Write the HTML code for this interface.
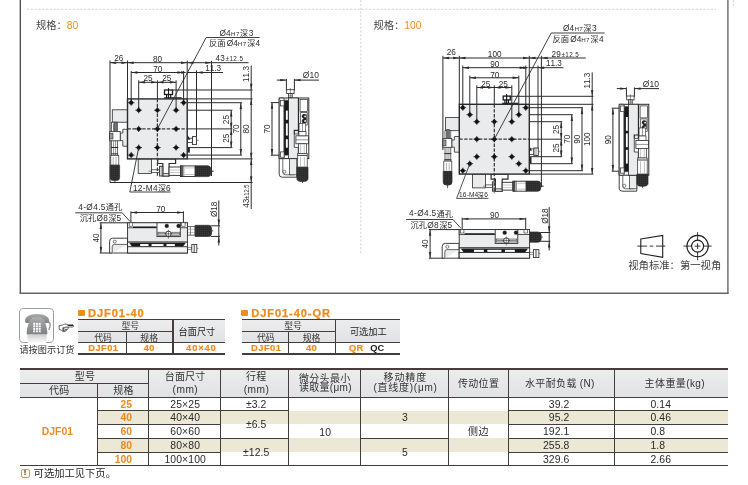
<!DOCTYPE html>
<html lang="zh-CN">
<head>
<meta charset="utf-8">
<title>DJF01</title>
<style>
html,body{margin:0;padding:0;background:#fff;}
body{-webkit-font-smoothing:antialiased;width:748px;height:485px;position:relative;overflow:hidden;font-family:"Liberation Sans","Noto Sans CJK SC",sans-serif;color:#2a2a2a;}
#page{position:absolute;left:0;top:0;width:748px;height:485px;will-change:transform;}
svg#dwg{position:absolute;left:0;top:0;width:748px;height:485px;}
svg#dwg text{font-kerning:none;font-family:"Liberation Sans","Noto Sans CJK SC",sans-serif;}

.ln,.bg,.t,.sq,.phone,.warn,.abs{position:absolute;}
.t{white-space:nowrap;}
.sq{width:6.8px;height:6.2px;background:#f08a1c;border-radius:1.2px;}
.ttl{font-weight:bold;color:#f08a1c;font-size:11.1px;line-height:13px;letter-spacing:0.9px;-webkit-text-stroke:0.25px #f08a1c;}
.bo{-webkit-text-stroke:0.2px #f08a1c;}
.phone{border:1px solid #9b9b9b;border-radius:4.6px;background:#fff;box-sizing:border-box;}
.hand{font-family:"DejaVu Sans","Liberation Sans",sans-serif;color:#333;}
.warn{width:9px;height:9.3px;box-sizing:border-box;border:1.3px solid #f0902a;border-radius:2.2px;background:#fff9f0;}
.warn span{position:absolute;left:0;right:0;top:-0.7px;text-align:center;font-size:7.8px;line-height:8px;font-weight:bold;color:#2a1a10;}

</style>
</head>
<body>
<div id="page">
<svg id="dwg" viewBox="0 0 748 485" width="748" height="485">
<defs><pattern id="kn" width="2" height="2" patternUnits="userSpaceOnUse"><rect width="2" height="2" fill="#141414"/><rect x="0.5" y="0.5" width="0.9" height="0.9" fill="#9a9a9a"/></pattern></defs>
<line x1="20.30" y1="0.00" x2="20.30" y2="293.50" stroke="#4a4645" stroke-width="1.3"/>
<line x1="727.90" y1="0.00" x2="727.90" y2="293.50" stroke="#756e6e" stroke-width="1.5"/>
<line x1="19.60" y1="293.30" x2="728.60" y2="293.30" stroke="#6a6464" stroke-width="1.4"/>
<line x1="27.00" y1="9.30" x2="716.00" y2="9.30" stroke="#c8c8c8" stroke-width="0.8" stroke-dasharray="2.2 1.6"/>
<line x1="360.80" y1="0.00" x2="360.80" y2="253.00" stroke="#c8c8c8" stroke-width="0.8" stroke-dasharray="2.2 1.6"/>
<line x1="733.50" y1="0.00" x2="733.50" y2="8.00" stroke="#d0d0d0" stroke-width="0.8" stroke-dasharray="2.2 1.6"/>
<text x="36.00" y="28.70" font-size="10.3" text-anchor="start" fill="#444">规格：</text>
<text x="66.80" y="28.50" font-size="10.3" text-anchor="start" fill="#f08c1e">80</text>
<text x="373.40" y="28.70" font-size="10.3" text-anchor="start" fill="#444">规格：</text>
<text x="404.20" y="28.50" font-size="10.3" text-anchor="start" fill="#f08c1e">100</text>
<line x1="110.00" y1="60.50" x2="110.00" y2="182.50" stroke="#2b2b2b" stroke-width="1.0"/>
<line x1="127.50" y1="60.50" x2="127.50" y2="98.90" stroke="#2b2b2b" stroke-width="1.0"/>
<line x1="187.20" y1="60.50" x2="187.20" y2="98.90" stroke="#2b2b2b" stroke-width="1.0"/>
<line x1="211.50" y1="60.80" x2="211.50" y2="176.00" stroke="#2b2b2b" stroke-width="1.0"/>
<line x1="110.00" y1="62.70" x2="248.50" y2="62.70" stroke="#2b2b2b" stroke-width="1.0"/>
<polygon points="110.00,62.70 116.20,61.50 116.20,63.90" fill="#2b2b2b"/>
<polygon points="127.50,62.70 121.30,61.50 121.30,63.90" fill="#2b2b2b"/>
<polygon points="127.50,62.70 133.70,61.50 133.70,63.90" fill="#2b2b2b"/>
<polygon points="187.20,62.70 181.00,61.50 181.00,63.90" fill="#2b2b2b"/>
<polygon points="187.20,62.70 193.40,61.50 193.40,63.90" fill="#2b2b2b"/>
<polygon points="211.50,62.70 205.30,61.50 205.30,63.90" fill="#2b2b2b"/>
<text x="118.70" y="60.90" font-size="8.2" text-anchor="middle" fill="#2b2b2b" letter-spacing="0">26</text>
<text x="157.60" y="61.60" font-size="8.2" text-anchor="middle" fill="#2b2b2b" letter-spacing="0">80</text>
<text x="215.40" y="61.40" font-size="8.2" text-anchor="start" fill="#2b2b2b" letter-spacing="0.3">43</text>
<text x="225.60" y="61.40" font-size="6.3" text-anchor="start" fill="#2b2b2b" letter-spacing="0.4">±12.5</text>
<line x1="131.20" y1="71.00" x2="131.20" y2="102.90" stroke="#2b2b2b" stroke-width="1.0"/>
<line x1="183.60" y1="71.00" x2="183.60" y2="102.90" stroke="#2b2b2b" stroke-width="1.0"/>
<line x1="131.20" y1="72.50" x2="183.60" y2="72.50" stroke="#2b2b2b" stroke-width="1.0"/>
<polygon points="131.20,72.50 137.40,71.30 137.40,73.70" fill="#2b2b2b"/>
<polygon points="183.60,72.50 177.40,71.30 177.40,73.70" fill="#2b2b2b"/>
<text x="157.80" y="71.90" font-size="8.2" text-anchor="middle" fill="#2b2b2b" letter-spacing="0">70</text>
<line x1="196.50" y1="70.30" x2="196.50" y2="136.60" stroke="#2b2b2b" stroke-width="1.0"/>
<line x1="187.20" y1="72.50" x2="223.00" y2="72.50" stroke="#2b2b2b" stroke-width="1.0"/>
<polygon points="187.20,72.50 181.00,71.30 181.00,73.70" fill="#2b2b2b"/>
<polygon points="196.50,72.50 202.70,71.30 202.70,73.70" fill="#2b2b2b"/>
<text x="213.20" y="71.10" font-size="8.2" text-anchor="middle" fill="#2b2b2b" letter-spacing="0">11.3</text>
<line x1="138.70" y1="80.30" x2="138.70" y2="110.20" stroke="#2b2b2b" stroke-width="1.0"/>
<line x1="157.40" y1="80.30" x2="157.40" y2="98.90" stroke="#2b2b2b" stroke-width="1.0"/>
<line x1="176.10" y1="80.30" x2="176.10" y2="110.20" stroke="#2b2b2b" stroke-width="1.0"/>
<line x1="138.70" y1="82.30" x2="176.10" y2="82.30" stroke="#2b2b2b" stroke-width="1.0"/>
<polygon points="138.70,82.30 144.90,81.10 144.90,83.50" fill="#2b2b2b"/>
<polygon points="157.40,82.30 151.20,81.10 151.20,83.50" fill="#2b2b2b"/>
<polygon points="157.40,82.30 163.60,81.10 163.60,83.50" fill="#2b2b2b"/>
<polygon points="176.10,82.30 169.90,81.10 169.90,83.50" fill="#2b2b2b"/>
<text x="148.05" y="80.90" font-size="8.2" text-anchor="middle" fill="#2b2b2b" letter-spacing="0">25</text>
<text x="166.75" y="80.90" font-size="8.2" text-anchor="middle" fill="#2b2b2b" letter-spacing="0">25</text>
<line x1="172.50" y1="90.00" x2="252.60" y2="90.00" stroke="#2b2b2b" stroke-width="1.0"/>
<line x1="187.20" y1="98.90" x2="252.60" y2="98.90" stroke="#2b2b2b" stroke-width="1.0"/>
<line x1="183.60" y1="102.70" x2="242.00" y2="102.70" stroke="#2b2b2b" stroke-width="1.0"/>
<line x1="176.10" y1="110.20" x2="232.40" y2="110.20" stroke="#2b2b2b" stroke-width="1.0"/>
<line x1="187.20" y1="128.90" x2="232.40" y2="128.90" stroke="#2b2b2b" stroke-width="1.0"/>
<line x1="176.10" y1="147.60" x2="232.40" y2="147.60" stroke="#2b2b2b" stroke-width="1.0"/>
<line x1="183.60" y1="155.10" x2="242.00" y2="155.10" stroke="#2b2b2b" stroke-width="1.0"/>
<line x1="187.20" y1="158.90" x2="252.60" y2="158.90" stroke="#2b2b2b" stroke-width="1.0"/>
<line x1="110.00" y1="182.50" x2="252.60" y2="182.50" stroke="#2b2b2b" stroke-width="1.0"/>
<line x1="231.20" y1="110.20" x2="231.20" y2="147.60" stroke="#2b2b2b" stroke-width="1.0"/>
<polygon points="231.20,110.20 230.00,116.40 232.40,116.40" fill="#2b2b2b"/>
<polygon points="231.20,128.90 230.00,122.70 232.40,122.70" fill="#2b2b2b"/>
<polygon points="231.20,128.90 230.00,135.10 232.40,135.10" fill="#2b2b2b"/>
<polygon points="231.20,147.60 230.00,141.40 232.40,141.40" fill="#2b2b2b"/>
<text x="229.30" y="119.60" font-size="8.2" text-anchor="middle" fill="#2b2b2b" transform="rotate(-90 229.30 119.60)" letter-spacing="0">25</text>
<text x="229.30" y="138.20" font-size="8.2" text-anchor="middle" fill="#2b2b2b" transform="rotate(-90 229.30 138.20)" letter-spacing="0">25</text>
<line x1="240.80" y1="102.70" x2="240.80" y2="155.10" stroke="#2b2b2b" stroke-width="1.0"/>
<polygon points="240.80,102.70 239.60,108.90 242.00,108.90" fill="#2b2b2b"/>
<polygon points="240.80,155.10 239.60,148.90 242.00,148.90" fill="#2b2b2b"/>
<text x="238.90" y="128.90" font-size="8.2" text-anchor="middle" fill="#2b2b2b" transform="rotate(-90 238.90 128.90)" letter-spacing="0">70</text>
<line x1="251.20" y1="65.50" x2="251.20" y2="209.00" stroke="#2b2b2b" stroke-width="1.0"/>
<polygon points="251.20,89.90 250.00,83.70 252.40,83.70" fill="#2b2b2b"/>
<polygon points="251.20,98.90 250.00,105.10 252.40,105.10" fill="#2b2b2b"/>
<polygon points="251.20,158.90 250.00,152.70 252.40,152.70" fill="#2b2b2b"/>
<polygon points="251.20,158.90 250.00,165.10 252.40,165.10" fill="#2b2b2b"/>
<polygon points="251.20,182.50 250.00,176.30 252.40,176.30" fill="#2b2b2b"/>
<text x="249.30" y="128.90" font-size="8.2" text-anchor="middle" fill="#2b2b2b" transform="rotate(-90 249.30 128.90)" letter-spacing="0">80</text>
<text x="249.30" y="74.00" font-size="8.2" text-anchor="middle" fill="#2b2b2b" transform="rotate(-90 249.30 74.00)" letter-spacing="0">11.3</text>
<text x="249.40" y="207.70" font-size="8.2" text-anchor="start" fill="#2b2b2b" transform="rotate(-90 249.40 207.70)" letter-spacing="0">43</text>
<text x="249.40" y="198.90" font-size="6.3" text-anchor="start" fill="#2b2b2b" transform="rotate(-90 249.40 198.90)" textLength="14.4" lengthAdjust="spacingAndGlyphs">±12.5</text>
<rect x="112.30" y="109.80" width="15.20" height="12.40" fill="#eaebed" stroke="#2b2b2b" stroke-width="0.8"/>
<path d="M127.5,129.3 L122.8,129.3 L122.8,133 L120.2,133 L120.2,140.6 L122.8,140.6 L122.8,146.2 L127.5,146.2" fill="#eaebed" stroke="#2b2b2b" stroke-width="0.8"/>
<rect x="111.60" y="122.20" width="6.00" height="43.80" fill="#fff" stroke="#2b2b2b" stroke-width="0.7"/>
<line x1="113.60" y1="124.00" x2="113.60" y2="166.00" stroke="#2b2b2b" stroke-width="0.5"/>
<line x1="115.60" y1="124.00" x2="115.60" y2="166.00" stroke="#2b2b2b" stroke-width="0.5"/>
<rect x="114.00" y="122.20" width="2.40" height="9.20" fill="#777" stroke="#2b2b2b" stroke-width="0.6"/>
<rect x="109.70" y="131.40" width="10.50" height="9.40" fill="#fff" stroke="#2b2b2b" stroke-width="0.8"/>
<rect x="109.70" y="133.20" width="3.30" height="5.80" fill="#999" stroke="#2b2b2b" stroke-width="0.6"/>
<line x1="111.00" y1="147.50" x2="118.20" y2="147.50" stroke="#2b2b2b" stroke-width="1.0"/>
<line x1="111.00" y1="153.80" x2="118.20" y2="153.80" stroke="#2b2b2b" stroke-width="0.9"/>
<line x1="111.00" y1="155.30" x2="118.20" y2="155.30" stroke="#2b2b2b" stroke-width="0.6"/>
<rect x="110.80" y="155.30" width="8.00" height="9.90" fill="#fff" stroke="#2b2b2b" stroke-width="0.7"/>
<line x1="113.20" y1="157.00" x2="113.20" y2="165.00" stroke="#666" stroke-width="0.5"/>
<line x1="116.00" y1="157.00" x2="116.00" y2="165.00" stroke="#666" stroke-width="0.5"/>
<path d="M110.20,165.20 L119.60,165.20 L119.60,177.60 Q119.60,180.60 116.40,180.60 L113.40,180.60 Q110.20,180.60 110.20,177.60 Z" fill="url(#kn)" stroke="#2b2b2b" stroke-width="0.7"/>
<line x1="114.90" y1="180.60" x2="114.90" y2="183.20" stroke="#2b2b2b" stroke-width="0.8"/>
<rect x="138.20" y="158.90" width="13.40" height="14.50" fill="#eaebed" stroke="#2b2b2b" stroke-width="0.8"/>
<line x1="148.50" y1="171.20" x2="214.00" y2="171.20" stroke="#2b2b2b" stroke-width="0.5"/>
<rect x="151.60" y="169.80" width="8.00" height="2.60" fill="#fff" stroke="#2b2b2b" stroke-width="0.7"/>
<path d="M157.7,158.9 L175.6,158.9 L175.6,163.5 L169.1,163.5 L169.1,176.0 L162.8,176.0 L162.8,163.5 L157.7,163.5 Z" fill="#fff" stroke="#2b2b2b" stroke-width="1.2"/>
<rect x="162.80" y="173.70" width="6.30" height="2.30" fill="#fff" stroke="#2b2b2b" stroke-width="0.9"/>
<rect x="159.60" y="166.30" width="3.20" height="9.70" fill="#fff" stroke="#2b2b2b" stroke-width="0.9"/>
<line x1="161.20" y1="166.30" x2="161.20" y2="176.00" stroke="#2b2b2b" stroke-width="0.5"/>
<rect x="169.10" y="167.00" width="11.40" height="8.40" fill="#fff" stroke="#2b2b2b" stroke-width="0.9"/>
<line x1="169.10" y1="170.00" x2="180.50" y2="170.00" stroke="#777" stroke-width="0.4"/>
<line x1="169.10" y1="172.60" x2="180.50" y2="172.60" stroke="#777" stroke-width="0.4"/>
<rect x="180.50" y="165.90" width="14.70" height="10.60" fill="#fff" stroke="#2b2b2b" stroke-width="0.9"/>
<rect x="180.50" y="165.90" width="2.00" height="10.60" fill="#555" stroke="#2b2b2b" stroke-width="0.6"/>
<line x1="183.80" y1="165.90" x2="183.80" y2="176.50" stroke="#2b2b2b" stroke-width="0.6"/>
<line x1="184.90" y1="167.90" x2="195.20" y2="167.90" stroke="#777" stroke-width="0.45"/>
<line x1="184.90" y1="174.50" x2="195.20" y2="174.50" stroke="#777" stroke-width="0.45"/>
<path d="M195.20,165.80 L207.90,165.80 Q210.90,165.80 210.90,169.70 L210.90,172.70 Q210.90,176.60 207.90,176.60 L195.20,176.60 Z" fill="url(#kn)" stroke="#2b2b2b" stroke-width="0.7"/>
<line x1="210.90" y1="171.20" x2="213.30" y2="171.20" stroke="#2b2b2b" stroke-width="0.8"/>
<line x1="164.10" y1="97.90" x2="181.70" y2="97.90" stroke="#2b2b2b" stroke-width="1.4"/>
<rect x="164.50" y="90.00" width="8.00" height="4.50" fill="#fff" stroke="#1a1a1a" stroke-width="1.3"/>
<line x1="166.60" y1="94.60" x2="166.60" y2="98.00" stroke="#1a1a1a" stroke-width="1.2"/>
<line x1="170.70" y1="94.60" x2="170.70" y2="98.00" stroke="#1a1a1a" stroke-width="1.2"/>
<line x1="168.50" y1="88.10" x2="168.50" y2="100.20" stroke="#1a1a1a" stroke-width="1.1"/>
<line x1="185.40" y1="140.30" x2="198.80" y2="140.30" stroke="#2b2b2b" stroke-width="0.5"/>
<rect x="187.20" y="138.20" width="5.20" height="4.20" fill="#fff" stroke="#2b2b2b" stroke-width="0.8"/>
<path d="M187.2,134.8 L190.2,139.6 L187.2,139.6 Z" fill="#222" stroke="#2b2b2b" stroke-width="0.3"/>
<rect x="192.40" y="136.60" width="4.10" height="7.80" fill="#fff" stroke="#2b2b2b" stroke-width="0.9"/>
<rect x="187.50" y="147.50" width="2.30" height="4.80" fill="#222" stroke="#2b2b2b" stroke-width="0.4"/>
<rect x="127.50" y="98.90" width="59.70" height="60.00" fill="#eaebed" stroke="#2b2b2b" stroke-width="1.4"/>
<line x1="127.50" y1="128.90" x2="187.20" y2="128.90" stroke="#3a3a3a" stroke-width="1.25" stroke-dasharray="3.4 1.5"/>
<line x1="157.40" y1="98.90" x2="157.40" y2="176.50" stroke="#3a3a3a" stroke-width="1.25" stroke-dasharray="3.4 1.5"/>
<line x1="131.20" y1="98.90" x2="131.20" y2="102.70" stroke="#2b2b2b" stroke-width="1.0"/>
<line x1="183.60" y1="98.90" x2="183.60" y2="102.70" stroke="#2b2b2b" stroke-width="1.0"/>
<line x1="138.70" y1="98.90" x2="138.70" y2="110.20" stroke="#2b2b2b" stroke-width="1.0"/>
<line x1="176.10" y1="98.90" x2="176.10" y2="110.20" stroke="#2b2b2b" stroke-width="1.0"/>
<circle cx="138.70" cy="110.20" r="1.9" fill="#111" stroke="#111" stroke-width="0.4"/>
<line x1="135.40" y1="110.20" x2="142.00" y2="110.20" stroke="#111" stroke-width="0.8"/>
<line x1="138.70" y1="107.10" x2="138.70" y2="113.30" stroke="#111" stroke-width="0.8"/>
<circle cx="138.70" cy="128.90" r="1.9" fill="#111" stroke="#111" stroke-width="0.4"/>
<line x1="135.40" y1="128.90" x2="142.00" y2="128.90" stroke="#111" stroke-width="0.8"/>
<line x1="138.70" y1="125.80" x2="138.70" y2="132.00" stroke="#111" stroke-width="0.8"/>
<circle cx="138.70" cy="147.60" r="1.9" fill="#111" stroke="#111" stroke-width="0.4"/>
<line x1="135.40" y1="147.60" x2="142.00" y2="147.60" stroke="#111" stroke-width="0.8"/>
<line x1="138.70" y1="144.50" x2="138.70" y2="150.70" stroke="#111" stroke-width="0.8"/>
<circle cx="157.40" cy="110.20" r="1.9" fill="#111" stroke="#111" stroke-width="0.4"/>
<line x1="154.10" y1="110.20" x2="160.70" y2="110.20" stroke="#111" stroke-width="0.8"/>
<line x1="157.40" y1="107.10" x2="157.40" y2="113.30" stroke="#111" stroke-width="0.8"/>
<circle cx="157.40" cy="128.90" r="1.9" fill="#111" stroke="#111" stroke-width="0.4"/>
<line x1="154.10" y1="128.90" x2="160.70" y2="128.90" stroke="#111" stroke-width="0.8"/>
<line x1="157.40" y1="125.80" x2="157.40" y2="132.00" stroke="#111" stroke-width="0.8"/>
<circle cx="157.40" cy="147.60" r="1.9" fill="#111" stroke="#111" stroke-width="0.4"/>
<line x1="154.10" y1="147.60" x2="160.70" y2="147.60" stroke="#111" stroke-width="0.8"/>
<line x1="157.40" y1="144.50" x2="157.40" y2="150.70" stroke="#111" stroke-width="0.8"/>
<circle cx="176.10" cy="110.20" r="1.9" fill="#111" stroke="#111" stroke-width="0.4"/>
<line x1="172.80" y1="110.20" x2="179.40" y2="110.20" stroke="#111" stroke-width="0.8"/>
<line x1="176.10" y1="107.10" x2="176.10" y2="113.30" stroke="#111" stroke-width="0.8"/>
<circle cx="176.10" cy="128.90" r="1.9" fill="#111" stroke="#111" stroke-width="0.4"/>
<line x1="172.80" y1="128.90" x2="179.40" y2="128.90" stroke="#111" stroke-width="0.8"/>
<line x1="176.10" y1="125.80" x2="176.10" y2="132.00" stroke="#111" stroke-width="0.8"/>
<circle cx="176.10" cy="147.60" r="1.9" fill="#111" stroke="#111" stroke-width="0.4"/>
<line x1="172.80" y1="147.60" x2="179.40" y2="147.60" stroke="#111" stroke-width="0.8"/>
<line x1="176.10" y1="144.50" x2="176.10" y2="150.70" stroke="#111" stroke-width="0.8"/>
<circle cx="131.20" cy="102.70" r="1.9" fill="#111" stroke="#111" stroke-width="0.4"/>
<line x1="127.90" y1="102.70" x2="134.50" y2="102.70" stroke="#111" stroke-width="0.8"/>
<line x1="131.20" y1="99.60" x2="131.20" y2="105.80" stroke="#111" stroke-width="0.8"/>
<circle cx="131.20" cy="155.10" r="1.9" fill="#111" stroke="#111" stroke-width="0.4"/>
<line x1="127.90" y1="155.10" x2="134.50" y2="155.10" stroke="#111" stroke-width="0.8"/>
<line x1="131.20" y1="152.00" x2="131.20" y2="158.20" stroke="#111" stroke-width="0.8"/>
<circle cx="183.60" cy="102.70" r="1.9" fill="#111" stroke="#111" stroke-width="0.4"/>
<line x1="180.30" y1="102.70" x2="186.90" y2="102.70" stroke="#111" stroke-width="0.8"/>
<line x1="183.60" y1="99.60" x2="183.60" y2="105.80" stroke="#111" stroke-width="0.8"/>
<circle cx="183.60" cy="155.10" r="1.9" fill="#111" stroke="#111" stroke-width="0.4"/>
<line x1="180.30" y1="155.10" x2="186.90" y2="155.10" stroke="#111" stroke-width="0.8"/>
<line x1="183.60" y1="152.00" x2="183.60" y2="158.20" stroke="#111" stroke-width="0.8"/>
<line x1="157.40" y1="128.90" x2="206.20" y2="37.50" stroke="#2b2b2b" stroke-width="0.9"/>
<line x1="206.20" y1="37.50" x2="259.60" y2="37.50" stroke="#2b2b2b" stroke-width="0.9"/>
<text x="219.50" y="35.60" font-size="8.3" text-anchor="start" fill="#2b2b2b" letter-spacing="0.1">Ø4</text>
<text x="231.00" y="35.60" font-size="6.2" text-anchor="start" fill="#2b2b2b" letter-spacing="0.45">H7</text>
<text x="240.00" y="35.60" font-size="8.0" text-anchor="start" fill="#2b2b2b">深</text>
<text x="248.70" y="35.60" font-size="8.3" text-anchor="start" fill="#2b2b2b">3</text>
<text x="209.00" y="46.40" font-size="8.4" text-anchor="start" fill="#2b2b2b">反面</text>
<text x="226.80" y="46.20" font-size="8.3" text-anchor="start" fill="#2b2b2b" letter-spacing="0.1">Ø4</text>
<text x="237.80" y="46.20" font-size="6.2" text-anchor="start" fill="#2b2b2b" letter-spacing="0.45">H7</text>
<text x="247.20" y="46.20" font-size="8.0" text-anchor="start" fill="#2b2b2b">深</text>
<text x="255.50" y="46.20" font-size="8.3" text-anchor="start" fill="#2b2b2b">4</text>
<line x1="138.70" y1="147.60" x2="129.80" y2="192.00" stroke="#2b2b2b" stroke-width="0.9"/>
<line x1="129.80" y1="192.00" x2="170.60" y2="192.00" stroke="#2b2b2b" stroke-width="0.9"/>
<text x="132.90" y="190.50" font-size="8.3" text-anchor="start" fill="#2b2b2b" letter-spacing="0.3">12-M4</text>
<text x="157.90" y="190.70" font-size="8.0" text-anchor="start" fill="#2b2b2b">深</text>
<text x="166.10" y="190.50" font-size="8.3" text-anchor="start" fill="#2b2b2b">6</text>
<line x1="286.40" y1="78.90" x2="286.40" y2="90.50" stroke="#2b2b2b" stroke-width="1.0"/>
<line x1="294.40" y1="78.90" x2="294.40" y2="90.50" stroke="#2b2b2b" stroke-width="1.0"/>
<line x1="276.80" y1="80.10" x2="286.40" y2="80.10" stroke="#2b2b2b" stroke-width="1.0"/>
<polygon points="286.40,80.10 280.20,78.90 280.20,81.30" fill="#2b2b2b"/>
<line x1="294.40" y1="80.10" x2="319.00" y2="80.10" stroke="#2b2b2b" stroke-width="1.0"/>
<polygon points="294.40,80.10 300.60,78.90 300.60,81.30" fill="#2b2b2b"/>
<text x="302.80" y="78.20" font-size="8.5" text-anchor="start" fill="#2b2b2b" letter-spacing="0.1">Ø10</text>
<rect x="286.70" y="89.70" width="7.40" height="3.90" fill="#fff" stroke="#2b2b2b" stroke-width="0.8"/>
<rect x="288.60" y="93.60" width="3.60" height="4.40" fill="#fff" stroke="#2b2b2b" stroke-width="0.8"/>
<line x1="290.40" y1="88.00" x2="290.40" y2="99.50" stroke="#2b2b2b" stroke-width="0.5"/>
<line x1="288.60" y1="95.80" x2="292.20" y2="95.80" stroke="#2b2b2b" stroke-width="0.5"/>
<line x1="270.80" y1="102.60" x2="283.20" y2="102.60" stroke="#2b2b2b" stroke-width="1.0"/>
<line x1="270.80" y1="155.20" x2="283.20" y2="155.20" stroke="#2b2b2b" stroke-width="1.0"/>
<line x1="272.00" y1="102.60" x2="272.00" y2="155.20" stroke="#2b2b2b" stroke-width="1.0"/>
<polygon points="272.00,102.60 270.80,108.80 273.20,108.80" fill="#2b2b2b"/>
<polygon points="272.00,155.20 270.80,149.00 273.20,149.00" fill="#2b2b2b"/>
<text x="270.10" y="128.90" font-size="8.2" text-anchor="middle" fill="#2b2b2b" transform="rotate(-90 270.10 128.90)" letter-spacing="0">70</text>
<path d="M279.2,154.6 L279.2,174.2 Q279.2,177.2 282.2,177.2 L296.79999999999995,177.2 L296.79999999999995,158.6" fill="#fff" stroke="#2b2b2b" stroke-width="0.9"/>
<path d="M282.8,158.6 L282.8,172.2 Q282.8,174.79999999999998 285.4,174.79999999999998 L294.4,174.79999999999998" fill="none" stroke="#2b2b2b" stroke-width="0.7"/>
<rect x="289.40" y="158.60" width="7.40" height="16.20" fill="#eaebed" stroke="#2b2b2b" stroke-width="0.7"/>
<circle cx="284.40" cy="171.80" r="1.5" fill="#fff" stroke="#2b2b2b" stroke-width="0.6"/>
<rect x="279.20" y="98.00" width="29.60" height="60.60" fill="#fff" stroke="#2b2b2b" stroke-width="1.0"/>
<rect x="279.20" y="98.00" width="4.90" height="60.60" fill="#fff" stroke="#2b2b2b" stroke-width="0.9" rx="1.0"/>
<rect x="288.40" y="98.00" width="10.10" height="60.60" fill="#eaebed" stroke="#2b2b2b" stroke-width="0.8"/>
<rect x="284.10" y="100.20" width="4.30" height="55.00" fill="#1a1a1a" stroke="#2b2b2b" stroke-width="0.4" rx="1.2"/>
<rect x="285.90" y="110.60" width="1.90" height="9.21" fill="#fff" stroke="none" stroke-width="0.0"/>
<rect x="285.90" y="123.45" width="1.90" height="12.12" fill="#fff" stroke="none" stroke-width="0.0"/>
<rect x="285.90" y="139.21" width="1.90" height="8.48" fill="#fff" stroke="none" stroke-width="0.0"/>
<rect x="280.40" y="100.30" width="3.70" height="5.60" fill="#fff" stroke="#2b2b2b" stroke-width="0.7"/>
<rect x="280.40" y="151.90" width="3.70" height="5.30" fill="#fff" stroke="#2b2b2b" stroke-width="0.7"/>
<line x1="298.50" y1="98.00" x2="298.50" y2="158.60" stroke="#2b2b2b" stroke-width="1.3"/>
<rect x="300.10" y="99.60" width="7.50" height="12.00" fill="#fff" stroke="#2b2b2b" stroke-width="0.7"/>
<rect x="300.70" y="112.60" width="6.50" height="12.40" fill="#fff" stroke="#2b2b2b" stroke-width="0.7"/>
<circle cx="303.90" cy="116.20" r="1.9" fill="#222" stroke="#2b2b2b" stroke-width="0.5"/>
<circle cx="303.90" cy="121.00" r="1.9" fill="#222" stroke="#2b2b2b" stroke-width="0.5"/>
<rect x="303.50" y="114.60" width="2.90" height="8.20" fill="#222" stroke="#2b2b2b" stroke-width="0.4"/>
<circle cx="305.10" cy="116.40" r="0.9" fill="#fff" stroke="none" stroke-width="0.0"/>
<circle cx="305.10" cy="121.00" r="0.9" fill="#fff" stroke="none" stroke-width="0.0"/>
<path d="M298.5,134.0 L294.3,134.0 L294.3,147.4 L298.5,147.4" fill="#fff" stroke="#2b2b2b" stroke-width="0.8"/>
<path d="M294.3,134.0 L294.3,130.4 L298.5,130.4" fill="none" stroke="#2b2b2b" stroke-width="1.2"/>
<rect x="299.10" y="123.40" width="6.50" height="8.00" fill="#fff" stroke="#2b2b2b" stroke-width="0.6"/>
<line x1="302.45" y1="121.40" x2="302.45" y2="182.40" stroke="#2b2b2b" stroke-width="0.5"/>
<rect x="295.90" y="135.80" width="12.50" height="8.00" fill="#fff" stroke="#2b2b2b" stroke-width="0.8"/>
<line x1="295.90" y1="139.80" x2="308.40" y2="139.80" stroke="#2b2b2b" stroke-width="0.5"/>
<rect x="298.90" y="131.40" width="7.10" height="4.40" fill="#fff" stroke="#2b2b2b" stroke-width="0.7"/>
<rect x="298.50" y="143.80" width="7.90" height="9.60" fill="#fff" stroke="#2b2b2b" stroke-width="0.7"/>
<line x1="300.70" y1="144.40" x2="300.70" y2="153.40" stroke="#666" stroke-width="0.4"/>
<line x1="304.20" y1="144.40" x2="304.20" y2="153.40" stroke="#666" stroke-width="0.4"/>
<rect x="297.70" y="153.40" width="9.50" height="13.80" fill="#fff" stroke="#2b2b2b" stroke-width="0.7"/>
<line x1="297.70" y1="155.40" x2="307.20" y2="155.40" stroke="#2b2b2b" stroke-width="0.9"/>
<line x1="300.50" y1="156.80" x2="300.50" y2="166.20" stroke="#666" stroke-width="0.4"/>
<line x1="304.40" y1="156.80" x2="304.40" y2="166.20" stroke="#666" stroke-width="0.4"/>
<path d="M296.90,167.20 L308.00,167.20 L308.00,178.40 Q308.00,181.40 303.95,181.40 L300.95,181.40 Q296.90,181.40 296.90,178.40 Z" fill="url(#kn)" stroke="#2b2b2b" stroke-width="0.7"/>
<line x1="302.45" y1="181.40" x2="302.45" y2="183.00" stroke="#2b2b2b" stroke-width="0.8"/>
<line x1="130.90" y1="211.30" x2="130.90" y2="226.40" stroke="#2b2b2b" stroke-width="1.0"/>
<line x1="183.40" y1="211.30" x2="183.40" y2="226.40" stroke="#2b2b2b" stroke-width="1.0"/>
<line x1="130.90" y1="212.50" x2="183.40" y2="212.50" stroke="#2b2b2b" stroke-width="1.0"/>
<polygon points="130.90,212.50 137.10,211.30 137.10,213.70" fill="#2b2b2b"/>
<polygon points="183.40,212.50 177.20,211.30 177.20,213.70" fill="#2b2b2b"/>
<text x="160.85" y="212.00" font-size="8.2" text-anchor="middle" fill="#2b2b2b" letter-spacing="0">70</text>
<line x1="99.70" y1="222.80" x2="127.60" y2="222.80" stroke="#2b2b2b" stroke-width="1.0"/>
<line x1="99.70" y1="253.00" x2="111.60" y2="253.00" stroke="#2b2b2b" stroke-width="1.0"/>
<line x1="100.90" y1="222.80" x2="100.90" y2="253.00" stroke="#2b2b2b" stroke-width="1.0"/>
<polygon points="100.90,222.80 99.70,229.00 102.10,229.00" fill="#2b2b2b"/>
<polygon points="100.90,253.00 99.70,246.80 102.10,246.80" fill="#2b2b2b"/>
<text x="99.00" y="237.90" font-size="8.2" text-anchor="middle" fill="#2b2b2b" transform="rotate(-90 99.00 237.90)" letter-spacing="0">40</text>
<line x1="75.20" y1="212.80" x2="122.20" y2="212.80" stroke="#2b2b2b" stroke-width="0.9"/>
<line x1="122.20" y1="212.80" x2="130.00" y2="221.50" stroke="#2b2b2b" stroke-width="0.9"/>
<text x="78.30" y="209.70" font-size="8.3" text-anchor="start" fill="#2b2b2b" letter-spacing="0.35">4-Ø4.5</text>
<text x="105.80" y="210.10" font-size="8.2" text-anchor="start" fill="#2b2b2b">通孔</text>
<text x="79.70" y="221.30" font-size="8.2" text-anchor="start" fill="#2b2b2b">沉孔</text>
<text x="96.50" y="221.00" font-size="8.3" text-anchor="start" fill="#2b2b2b" letter-spacing="0.35">Ø8</text>
<text x="108.60" y="221.30" font-size="8.0" text-anchor="start" fill="#2b2b2b">深</text>
<text x="116.60" y="221.00" font-size="8.3" text-anchor="start" fill="#2b2b2b">5</text>
<path d="M127.6,238.2 L112.6,238.2 Q109.6,238.2 109.6,241.2 L109.6,253.0 L127.6,253.0 Z" fill="#fff" stroke="#2b2b2b" stroke-width="0.9"/>
<path d="M127.6,244.39999999999998 L114.6,244.39999999999998 Q112.19999999999999,244.39999999999998 112.19999999999999,246.79999999999998 L112.19999999999999,253.0" fill="#eaebed" stroke="#2b2b2b" stroke-width="0.7"/>
<circle cx="114.80" cy="241.60" r="1.5" fill="#fff" stroke="#2b2b2b" stroke-width="0.6"/>
<rect x="187.40" y="226.70" width="7.70" height="8.40" fill="#fff" stroke="#2b2b2b" stroke-width="0.7"/>
<line x1="190.40" y1="226.70" x2="190.40" y2="235.10" stroke="#2b2b2b" stroke-width="0.6"/>
<line x1="187.40" y1="229.30" x2="195.10" y2="229.30" stroke="#666" stroke-width="0.4"/>
<line x1="187.40" y1="232.50" x2="195.10" y2="232.50" stroke="#666" stroke-width="0.4"/>
<path d="M195.10,225.30 L208.60,225.30 Q211.60,225.30 211.60,229.40 L211.60,232.40 Q211.60,236.50 208.60,236.50 L195.10,236.50 Z" fill="url(#kn)" stroke="#2b2b2b" stroke-width="0.7"/>
<line x1="211.60" y1="230.90" x2="213.20" y2="230.90" stroke="#2b2b2b" stroke-width="0.8"/>
<line x1="210.60" y1="225.80" x2="220.00" y2="225.80" stroke="#2b2b2b" stroke-width="1.0"/>
<line x1="210.60" y1="236.40" x2="220.00" y2="236.40" stroke="#2b2b2b" stroke-width="1.0"/>
<line x1="218.80" y1="200.40" x2="218.80" y2="245.50" stroke="#2b2b2b" stroke-width="1.0"/>
<polygon points="218.80,225.80 217.60,219.60 220.00,219.60" fill="#2b2b2b"/>
<polygon points="218.80,236.40 217.60,242.60 220.00,242.60" fill="#2b2b2b"/>
<text x="217.30" y="217.10" font-size="8.2" text-anchor="start" fill="#2b2b2b" transform="rotate(-90 217.30 217.10)">Ø18</text>
<line x1="187.40" y1="248.40" x2="198.40" y2="248.40" stroke="#2b2b2b" stroke-width="0.5"/>
<rect x="187.40" y="247.20" width="4.40" height="2.40" fill="#fff" stroke="#2b2b2b" stroke-width="0.5"/>
<rect x="191.80" y="244.40" width="5.00" height="8.00" fill="#fff" stroke="#2b2b2b" stroke-width="0.8"/>
<line x1="194.00" y1="244.40" x2="194.00" y2="252.40" stroke="#2b2b2b" stroke-width="0.5"/>
<line x1="194.60" y1="244.40" x2="194.60" y2="252.40" stroke="#2b2b2b" stroke-width="0.5"/>
<rect x="127.60" y="222.80" width="59.80" height="19.33" fill="#eaebed" stroke="#2b2b2b" stroke-width="0.9"/>
<rect x="127.60" y="222.80" width="59.80" height="5.00" fill="#f4f4f5" stroke="#2b2b2b" stroke-width="0.8"/>
<line x1="133.00" y1="227.20" x2="156.40" y2="227.20" stroke="#1a1a1a" stroke-width="1.5"/>
<rect x="129.20" y="222.80" width="3.40" height="3.40" fill="#fff" stroke="#2b2b2b" stroke-width="0.6"/>
<rect x="181.70" y="222.80" width="3.40" height="3.40" fill="#fff" stroke="#2b2b2b" stroke-width="0.6"/>
<rect x="157.00" y="222.80" width="23.30" height="13.80" fill="#fff" stroke="#2b2b2b" stroke-width="0.9"/>
<circle cx="166.79" cy="225.90" r="1.9" fill="#1c1c1c" stroke="#2b2b2b" stroke-width="0.4"/>
<circle cx="178.50" cy="225.90" r="1.9" fill="#1c1c1c" stroke="#2b2b2b" stroke-width="0.4"/>
<rect x="158.00" y="232.20" width="21.30" height="3.00" fill="#eaebed" stroke="#2b2b2b" stroke-width="0.6"/>
<line x1="158.00" y1="233.70" x2="179.30" y2="233.70" stroke="#888" stroke-width="1.1"/>
<circle cx="168.42" cy="233.80" r="2.7" fill="#fff" stroke="#2b2b2b" stroke-width="0.9"/>
<line x1="164.62" y1="233.80" x2="172.22" y2="233.80" stroke="#2b2b2b" stroke-width="0.6"/>
<line x1="168.42" y1="229.80" x2="168.42" y2="238.60" stroke="#2b2b2b" stroke-width="0.6"/>
<rect x="127.60" y="242.13" width="59.80" height="10.87" fill="#fff" stroke="#2b2b2b" stroke-width="0.9"/>
<path d="M129.6,243.02800000000002 L185.4,243.02800000000002 L182.8,246.728 L132.2,246.728 Z" fill="#1a1a1a" stroke="#2b2b2b" stroke-width="0.4"/>
<rect x="140.16" y="244.03" width="8.37" height="2.10" fill="#fff" stroke="none" stroke-width="0"/>
<rect x="151.52" y="244.03" width="11.96" height="2.10" fill="#fff" stroke="none" stroke-width="0"/>
<rect x="166.47" y="244.03" width="8.37" height="2.10" fill="#fff" stroke="none" stroke-width="0"/>
<rect x="127.60" y="246.73" width="59.80" height="6.27" fill="#f4f4f5" stroke="#2b2b2b" stroke-width="0.9"/>
<line x1="442.90" y1="55.80" x2="442.90" y2="150.00" stroke="#2b2b2b" stroke-width="1.0"/>
<line x1="459.30" y1="55.80" x2="459.30" y2="104.30" stroke="#2b2b2b" stroke-width="1.0"/>
<line x1="529.30" y1="55.80" x2="529.30" y2="104.30" stroke="#2b2b2b" stroke-width="1.0"/>
<line x1="541.40" y1="55.80" x2="541.40" y2="187.00" stroke="#2b2b2b" stroke-width="1.0"/>
<line x1="442.90" y1="58.00" x2="585.80" y2="58.00" stroke="#2b2b2b" stroke-width="1.0"/>
<polygon points="442.90,58.00 449.10,56.80 449.10,59.20" fill="#2b2b2b"/>
<polygon points="459.30,58.00 453.10,56.80 453.10,59.20" fill="#2b2b2b"/>
<polygon points="459.30,58.00 465.50,56.80 465.50,59.20" fill="#2b2b2b"/>
<polygon points="529.30,58.00 523.10,56.80 523.10,59.20" fill="#2b2b2b"/>
<polygon points="529.30,58.00 535.50,56.80 535.50,59.20" fill="#2b2b2b"/>
<polygon points="541.40,58.00 547.60,56.80 547.60,59.20" fill="#2b2b2b"/>
<text x="451.20" y="55.20" font-size="8.2" text-anchor="middle" fill="#2b2b2b" letter-spacing="0">26</text>
<text x="494.70" y="57.30" font-size="8.2" text-anchor="middle" fill="#2b2b2b" letter-spacing="0">100</text>
<text x="551.40" y="56.70" font-size="8.2" text-anchor="start" fill="#2b2b2b" letter-spacing="0.3">29</text>
<text x="561.40" y="56.70" font-size="6.3" text-anchor="start" fill="#2b2b2b" letter-spacing="0.4">±12.5</text>
<line x1="462.80" y1="65.50" x2="462.80" y2="104.30" stroke="#2b2b2b" stroke-width="1.0"/>
<line x1="525.80" y1="65.50" x2="525.80" y2="104.30" stroke="#2b2b2b" stroke-width="1.0"/>
<line x1="462.80" y1="67.70" x2="525.80" y2="67.70" stroke="#2b2b2b" stroke-width="1.0"/>
<polygon points="462.80,67.70 469.00,66.50 469.00,68.90" fill="#2b2b2b"/>
<polygon points="525.80,67.70 519.60,66.50 519.60,68.90" fill="#2b2b2b"/>
<text x="494.70" y="67.10" font-size="8.2" text-anchor="middle" fill="#2b2b2b" letter-spacing="0">90</text>
<line x1="538.00" y1="65.50" x2="538.00" y2="148.00" stroke="#2b2b2b" stroke-width="1.0"/>
<line x1="529.30" y1="67.70" x2="563.40" y2="67.70" stroke="#2b2b2b" stroke-width="1.0"/>
<polygon points="529.30,67.70 523.10,66.50 523.10,68.90" fill="#2b2b2b"/>
<polygon points="538.00,67.70 544.20,66.50 544.20,68.90" fill="#2b2b2b"/>
<text x="553.90" y="66.30" font-size="8.2" text-anchor="middle" fill="#2b2b2b" letter-spacing="0">11.3</text>
<line x1="469.80" y1="75.60" x2="469.80" y2="104.30" stroke="#2b2b2b" stroke-width="1.0"/>
<line x1="518.80" y1="75.60" x2="518.80" y2="104.30" stroke="#2b2b2b" stroke-width="1.0"/>
<line x1="469.80" y1="77.80" x2="518.80" y2="77.80" stroke="#2b2b2b" stroke-width="1.0"/>
<polygon points="469.80,77.80 476.00,76.60 476.00,79.00" fill="#2b2b2b"/>
<polygon points="518.80,77.80 512.60,76.60 512.60,79.00" fill="#2b2b2b"/>
<text x="494.70" y="77.50" font-size="8.2" text-anchor="middle" fill="#2b2b2b" letter-spacing="0">70</text>
<line x1="476.80" y1="85.30" x2="476.80" y2="104.30" stroke="#2b2b2b" stroke-width="1.0"/>
<line x1="494.30" y1="85.30" x2="494.30" y2="104.30" stroke="#2b2b2b" stroke-width="1.0"/>
<line x1="511.80" y1="85.30" x2="511.80" y2="104.30" stroke="#2b2b2b" stroke-width="1.0"/>
<line x1="476.80" y1="87.50" x2="511.80" y2="87.50" stroke="#2b2b2b" stroke-width="1.0"/>
<polygon points="476.80,87.50 483.00,86.30 483.00,88.70" fill="#2b2b2b"/>
<polygon points="494.30,87.50 488.10,86.30 488.10,88.70" fill="#2b2b2b"/>
<polygon points="494.30,87.50 500.50,86.30 500.50,88.70" fill="#2b2b2b"/>
<polygon points="511.80,87.50 505.60,86.30 505.60,88.70" fill="#2b2b2b"/>
<text x="485.85" y="86.70" font-size="8.2" text-anchor="middle" fill="#2b2b2b" letter-spacing="0">25</text>
<text x="503.35" y="86.70" font-size="8.2" text-anchor="middle" fill="#2b2b2b" letter-spacing="0">25</text>
<line x1="510.40" y1="96.30" x2="593.40" y2="96.30" stroke="#2b2b2b" stroke-width="1.0"/>
<line x1="529.30" y1="104.30" x2="593.40" y2="104.30" stroke="#2b2b2b" stroke-width="1.0"/>
<line x1="525.80" y1="107.70" x2="583.00" y2="107.70" stroke="#2b2b2b" stroke-width="1.0"/>
<line x1="518.80" y1="114.70" x2="572.80" y2="114.70" stroke="#2b2b2b" stroke-width="1.0"/>
<line x1="511.80" y1="121.70" x2="562.20" y2="121.70" stroke="#2b2b2b" stroke-width="1.0"/>
<line x1="529.30" y1="139.20" x2="562.20" y2="139.20" stroke="#2b2b2b" stroke-width="1.0"/>
<line x1="511.80" y1="156.70" x2="562.20" y2="156.70" stroke="#2b2b2b" stroke-width="1.0"/>
<line x1="518.80" y1="163.70" x2="572.80" y2="163.70" stroke="#2b2b2b" stroke-width="1.0"/>
<line x1="525.80" y1="170.70" x2="583.00" y2="170.70" stroke="#2b2b2b" stroke-width="1.0"/>
<line x1="529.30" y1="174.10" x2="593.40" y2="174.10" stroke="#2b2b2b" stroke-width="1.0"/>
<line x1="561.20" y1="121.70" x2="561.20" y2="156.70" stroke="#2b2b2b" stroke-width="1.0"/>
<polygon points="561.20,121.70 560.00,127.90 562.40,127.90" fill="#2b2b2b"/>
<polygon points="561.20,139.20 560.00,133.00 562.40,133.00" fill="#2b2b2b"/>
<polygon points="561.20,139.20 560.00,145.40 562.40,145.40" fill="#2b2b2b"/>
<polygon points="561.20,156.70 560.00,150.50 562.40,150.50" fill="#2b2b2b"/>
<text x="559.30" y="129.45" font-size="8.2" text-anchor="middle" fill="#2b2b2b" transform="rotate(-90 559.30 129.45)" letter-spacing="0">25</text>
<text x="559.30" y="147.95" font-size="8.2" text-anchor="middle" fill="#2b2b2b" transform="rotate(-90 559.30 147.95)" letter-spacing="0">25</text>
<line x1="571.80" y1="114.70" x2="571.80" y2="163.70" stroke="#2b2b2b" stroke-width="1.0"/>
<polygon points="571.80,114.70 570.60,120.90 573.00,120.90" fill="#2b2b2b"/>
<polygon points="571.80,163.70 570.60,157.50 573.00,157.50" fill="#2b2b2b"/>
<text x="569.90" y="139.20" font-size="8.2" text-anchor="middle" fill="#2b2b2b" transform="rotate(-90 569.90 139.20)" letter-spacing="0">70</text>
<line x1="582.00" y1="107.70" x2="582.00" y2="170.70" stroke="#2b2b2b" stroke-width="1.0"/>
<polygon points="582.00,107.70 580.80,113.90 583.20,113.90" fill="#2b2b2b"/>
<polygon points="582.00,170.70 580.80,164.50 583.20,164.50" fill="#2b2b2b"/>
<text x="580.10" y="139.20" font-size="8.2" text-anchor="middle" fill="#2b2b2b" transform="rotate(-90 580.10 139.20)" letter-spacing="0">90</text>
<line x1="592.20" y1="72.40" x2="592.20" y2="174.10" stroke="#2b2b2b" stroke-width="1.0"/>
<polygon points="592.20,96.20 591.00,90.00 593.40,90.00" fill="#2b2b2b"/>
<polygon points="592.20,104.30 591.00,110.50 593.40,110.50" fill="#2b2b2b"/>
<polygon points="592.20,174.10 591.00,167.90 593.40,167.90" fill="#2b2b2b"/>
<text x="590.30" y="139.20" font-size="8.2" text-anchor="middle" fill="#2b2b2b" transform="rotate(-90 590.30 139.20)" letter-spacing="0">100</text>
<text x="590.30" y="80.60" font-size="8.2" text-anchor="middle" fill="#2b2b2b" transform="rotate(-90 590.30 80.60)" letter-spacing="0">11.3</text>
<rect x="445.60" y="117.50" width="13.70" height="13.20" fill="#eaebed" stroke="#2b2b2b" stroke-width="0.8"/>
<path d="M459.3,136.5 L454.4,136.5 L454.4,140 L451.8,140 L451.8,147.2 L454.4,147.2 L454.4,152.2 L459.3,152.2" fill="#eaebed" stroke="#2b2b2b" stroke-width="0.8"/>
<rect x="445.00" y="130.70" width="5.80" height="41.30" fill="#fff" stroke="#2b2b2b" stroke-width="0.7"/>
<line x1="447.00" y1="132.00" x2="447.00" y2="172.00" stroke="#2b2b2b" stroke-width="0.5"/>
<line x1="448.90" y1="132.00" x2="448.90" y2="172.00" stroke="#2b2b2b" stroke-width="0.5"/>
<rect x="446.80" y="129.60" width="2.40" height="8.80" fill="#777" stroke="#2b2b2b" stroke-width="0.6"/>
<rect x="442.90" y="138.40" width="8.90" height="8.90" fill="#fff" stroke="#2b2b2b" stroke-width="0.8"/>
<rect x="442.90" y="140.00" width="3.10" height="5.80" fill="#999" stroke="#2b2b2b" stroke-width="0.6"/>
<line x1="444.40" y1="153.60" x2="451.40" y2="153.60" stroke="#2b2b2b" stroke-width="1.0"/>
<line x1="444.40" y1="159.60" x2="451.40" y2="159.60" stroke="#2b2b2b" stroke-width="0.9"/>
<line x1="444.40" y1="161.10" x2="451.40" y2="161.10" stroke="#2b2b2b" stroke-width="0.6"/>
<rect x="443.80" y="161.10" width="8.00" height="10.30" fill="#fff" stroke="#2b2b2b" stroke-width="0.7"/>
<line x1="446.40" y1="163.00" x2="446.40" y2="170.60" stroke="#666" stroke-width="0.5"/>
<line x1="449.20" y1="163.00" x2="449.20" y2="170.60" stroke="#666" stroke-width="0.5"/>
<path d="M443.20,171.40 L452.00,171.40 L452.00,182.00 Q452.00,185.00 449.10,185.00 L446.10,185.00 Q443.20,185.00 443.20,182.00 Z" fill="url(#kn)" stroke="#2b2b2b" stroke-width="0.7"/>
<line x1="447.60" y1="185.00" x2="447.60" y2="188.20" stroke="#2b2b2b" stroke-width="0.8"/>
<rect x="472.60" y="174.10" width="12.90" height="13.80" fill="#eaebed" stroke="#2b2b2b" stroke-width="0.8"/>
<line x1="483.00" y1="186.20" x2="544.00" y2="186.20" stroke="#2b2b2b" stroke-width="0.5"/>
<rect x="485.50" y="184.90" width="6.90" height="2.60" fill="#fff" stroke="#2b2b2b" stroke-width="0.7"/>
<path d="M491.1,174.1 L508.0,174.1 L508.0,179.1 L502.2,179.1 L502.2,191.2 L495.4,191.2 L495.4,179.1 L491.1,179.1 Z" fill="#fff" stroke="#2b2b2b" stroke-width="1.2"/>
<rect x="495.40" y="188.90" width="6.80" height="2.30" fill="#fff" stroke="#2b2b2b" stroke-width="0.9"/>
<rect x="492.40" y="181.90" width="3.00" height="9.30" fill="#fff" stroke="#2b2b2b" stroke-width="0.9"/>
<line x1="493.90" y1="181.90" x2="493.90" y2="191.20" stroke="#2b2b2b" stroke-width="0.5"/>
<rect x="502.20" y="182.30" width="10.80" height="7.80" fill="#fff" stroke="#2b2b2b" stroke-width="0.9"/>
<line x1="502.20" y1="185.00" x2="513.00" y2="185.00" stroke="#777" stroke-width="0.4"/>
<line x1="502.20" y1="187.60" x2="513.00" y2="187.60" stroke="#777" stroke-width="0.4"/>
<rect x="513.00" y="181.20" width="13.20" height="10.00" fill="#fff" stroke="#2b2b2b" stroke-width="0.9"/>
<rect x="513.00" y="181.20" width="2.00" height="10.00" fill="#555" stroke="#2b2b2b" stroke-width="0.6"/>
<line x1="516.30" y1="181.20" x2="516.30" y2="191.20" stroke="#2b2b2b" stroke-width="0.6"/>
<line x1="517.40" y1="183.20" x2="526.20" y2="183.20" stroke="#777" stroke-width="0.45"/>
<line x1="517.40" y1="189.20" x2="526.20" y2="189.20" stroke="#777" stroke-width="0.45"/>
<path d="M526.20,181.10 L537.80,181.10 Q540.80,181.10 540.80,184.70 L540.80,187.70 Q540.80,191.30 537.80,191.30 L526.20,191.30 Z" fill="url(#kn)" stroke="#2b2b2b" stroke-width="0.7"/>
<line x1="540.80" y1="186.20" x2="543.20" y2="186.20" stroke="#2b2b2b" stroke-width="0.8"/>
<line x1="502.20" y1="103.40" x2="518.50" y2="103.40" stroke="#2b2b2b" stroke-width="1.4"/>
<rect x="503.20" y="96.10" width="7.10" height="3.80" fill="#fff" stroke="#1a1a1a" stroke-width="1.3"/>
<line x1="504.90" y1="100.00" x2="504.90" y2="103.50" stroke="#1a1a1a" stroke-width="1.2"/>
<line x1="508.40" y1="100.00" x2="508.40" y2="103.50" stroke="#1a1a1a" stroke-width="1.2"/>
<line x1="506.60" y1="94.10" x2="506.60" y2="106.20" stroke="#1a1a1a" stroke-width="1.1"/>
<line x1="527.40" y1="151.70" x2="540.20" y2="151.70" stroke="#2b2b2b" stroke-width="0.5"/>
<rect x="529.30" y="148.90" width="4.60" height="5.60" fill="#fff" stroke="#2b2b2b" stroke-width="0.8"/>
<path d="M529.3,146.2 L531.8,150.6 L529.3,150.6 Z" fill="#222" stroke="#2b2b2b" stroke-width="0.3"/>
<rect x="533.90" y="148.00" width="4.40" height="7.40" fill="#fff" stroke="#2b2b2b" stroke-width="0.9"/>
<line x1="536.00" y1="148.00" x2="536.00" y2="155.40" stroke="#2b2b2b" stroke-width="0.5"/>
<rect x="529.40" y="157.10" width="1.80" height="6.20" fill="#222" stroke="#2b2b2b" stroke-width="0.4"/>
<rect x="459.30" y="104.30" width="70.00" height="69.80" fill="#eaebed" stroke="#2b2b2b" stroke-width="1.4"/>
<line x1="459.30" y1="139.20" x2="529.30" y2="139.20" stroke="#3a3a3a" stroke-width="1.25" stroke-dasharray="3.4 1.5"/>
<line x1="494.30" y1="104.30" x2="494.30" y2="193.20" stroke="#3a3a3a" stroke-width="1.25" stroke-dasharray="3.4 1.5"/>
<line x1="462.80" y1="104.30" x2="462.80" y2="107.70" stroke="#2b2b2b" stroke-width="1.0"/>
<line x1="525.80" y1="104.30" x2="525.80" y2="107.70" stroke="#2b2b2b" stroke-width="1.0"/>
<line x1="469.80" y1="104.30" x2="469.80" y2="114.70" stroke="#2b2b2b" stroke-width="1.0"/>
<line x1="518.80" y1="104.30" x2="518.80" y2="114.70" stroke="#2b2b2b" stroke-width="1.0"/>
<line x1="476.80" y1="104.30" x2="476.80" y2="121.70" stroke="#2b2b2b" stroke-width="1.0"/>
<line x1="511.80" y1="104.30" x2="511.80" y2="121.70" stroke="#2b2b2b" stroke-width="1.0"/>
<circle cx="476.80" cy="121.70" r="1.9" fill="#111" stroke="#111" stroke-width="0.4"/>
<line x1="473.50" y1="121.70" x2="480.10" y2="121.70" stroke="#111" stroke-width="0.8"/>
<line x1="476.80" y1="118.60" x2="476.80" y2="124.80" stroke="#111" stroke-width="0.8"/>
<circle cx="476.80" cy="139.20" r="1.9" fill="#111" stroke="#111" stroke-width="0.4"/>
<line x1="473.50" y1="139.20" x2="480.10" y2="139.20" stroke="#111" stroke-width="0.8"/>
<line x1="476.80" y1="136.10" x2="476.80" y2="142.30" stroke="#111" stroke-width="0.8"/>
<circle cx="476.80" cy="156.70" r="1.9" fill="#111" stroke="#111" stroke-width="0.4"/>
<line x1="473.50" y1="156.70" x2="480.10" y2="156.70" stroke="#111" stroke-width="0.8"/>
<line x1="476.80" y1="153.60" x2="476.80" y2="159.80" stroke="#111" stroke-width="0.8"/>
<circle cx="494.30" cy="121.70" r="1.9" fill="#111" stroke="#111" stroke-width="0.4"/>
<line x1="491.00" y1="121.70" x2="497.60" y2="121.70" stroke="#111" stroke-width="0.8"/>
<line x1="494.30" y1="118.60" x2="494.30" y2="124.80" stroke="#111" stroke-width="0.8"/>
<circle cx="494.30" cy="139.20" r="1.9" fill="#111" stroke="#111" stroke-width="0.4"/>
<line x1="491.00" y1="139.20" x2="497.60" y2="139.20" stroke="#111" stroke-width="0.8"/>
<line x1="494.30" y1="136.10" x2="494.30" y2="142.30" stroke="#111" stroke-width="0.8"/>
<circle cx="494.30" cy="156.70" r="1.9" fill="#111" stroke="#111" stroke-width="0.4"/>
<line x1="491.00" y1="156.70" x2="497.60" y2="156.70" stroke="#111" stroke-width="0.8"/>
<line x1="494.30" y1="153.60" x2="494.30" y2="159.80" stroke="#111" stroke-width="0.8"/>
<circle cx="511.80" cy="121.70" r="1.9" fill="#111" stroke="#111" stroke-width="0.4"/>
<line x1="508.50" y1="121.70" x2="515.10" y2="121.70" stroke="#111" stroke-width="0.8"/>
<line x1="511.80" y1="118.60" x2="511.80" y2="124.80" stroke="#111" stroke-width="0.8"/>
<circle cx="511.80" cy="139.20" r="1.9" fill="#111" stroke="#111" stroke-width="0.4"/>
<line x1="508.50" y1="139.20" x2="515.10" y2="139.20" stroke="#111" stroke-width="0.8"/>
<line x1="511.80" y1="136.10" x2="511.80" y2="142.30" stroke="#111" stroke-width="0.8"/>
<circle cx="511.80" cy="156.70" r="1.9" fill="#111" stroke="#111" stroke-width="0.4"/>
<line x1="508.50" y1="156.70" x2="515.10" y2="156.70" stroke="#111" stroke-width="0.8"/>
<line x1="511.80" y1="153.60" x2="511.80" y2="159.80" stroke="#111" stroke-width="0.8"/>
<circle cx="469.80" cy="114.70" r="1.9" fill="#111" stroke="#111" stroke-width="0.4"/>
<line x1="466.50" y1="114.70" x2="473.10" y2="114.70" stroke="#111" stroke-width="0.8"/>
<line x1="469.80" y1="111.60" x2="469.80" y2="117.80" stroke="#111" stroke-width="0.8"/>
<circle cx="469.80" cy="163.70" r="1.9" fill="#111" stroke="#111" stroke-width="0.4"/>
<line x1="466.50" y1="163.70" x2="473.10" y2="163.70" stroke="#111" stroke-width="0.8"/>
<line x1="469.80" y1="160.60" x2="469.80" y2="166.80" stroke="#111" stroke-width="0.8"/>
<circle cx="518.80" cy="114.70" r="1.9" fill="#111" stroke="#111" stroke-width="0.4"/>
<line x1="515.50" y1="114.70" x2="522.10" y2="114.70" stroke="#111" stroke-width="0.8"/>
<line x1="518.80" y1="111.60" x2="518.80" y2="117.80" stroke="#111" stroke-width="0.8"/>
<circle cx="518.80" cy="163.70" r="1.9" fill="#111" stroke="#111" stroke-width="0.4"/>
<line x1="515.50" y1="163.70" x2="522.10" y2="163.70" stroke="#111" stroke-width="0.8"/>
<line x1="518.80" y1="160.60" x2="518.80" y2="166.80" stroke="#111" stroke-width="0.8"/>
<circle cx="462.80" cy="107.70" r="1.9" fill="#111" stroke="#111" stroke-width="0.4"/>
<line x1="459.50" y1="107.70" x2="466.10" y2="107.70" stroke="#111" stroke-width="0.8"/>
<line x1="462.80" y1="104.60" x2="462.80" y2="110.80" stroke="#111" stroke-width="0.8"/>
<circle cx="462.80" cy="170.70" r="1.9" fill="#111" stroke="#111" stroke-width="0.4"/>
<line x1="459.50" y1="170.70" x2="466.10" y2="170.70" stroke="#111" stroke-width="0.8"/>
<line x1="462.80" y1="167.60" x2="462.80" y2="173.80" stroke="#111" stroke-width="0.8"/>
<circle cx="525.80" cy="107.70" r="1.9" fill="#111" stroke="#111" stroke-width="0.4"/>
<line x1="522.50" y1="107.70" x2="529.10" y2="107.70" stroke="#111" stroke-width="0.8"/>
<line x1="525.80" y1="104.60" x2="525.80" y2="110.80" stroke="#111" stroke-width="0.8"/>
<circle cx="525.80" cy="170.70" r="1.9" fill="#111" stroke="#111" stroke-width="0.4"/>
<line x1="522.50" y1="170.70" x2="529.10" y2="170.70" stroke="#111" stroke-width="0.8"/>
<line x1="525.80" y1="167.60" x2="525.80" y2="173.80" stroke="#111" stroke-width="0.8"/>
<line x1="494.30" y1="139.20" x2="551.20" y2="33.00" stroke="#2b2b2b" stroke-width="0.9"/>
<line x1="551.20" y1="33.00" x2="604.60" y2="33.00" stroke="#2b2b2b" stroke-width="0.9"/>
<text x="562.90" y="31.10" font-size="8.3" text-anchor="start" fill="#2b2b2b" letter-spacing="0.1">Ø4</text>
<text x="574.40" y="31.10" font-size="6.2" text-anchor="start" fill="#2b2b2b" letter-spacing="0.45">H7</text>
<text x="583.40" y="31.10" font-size="8.0" text-anchor="start" fill="#2b2b2b">深</text>
<text x="592.10" y="31.10" font-size="8.3" text-anchor="start" fill="#2b2b2b">3</text>
<text x="552.40" y="41.90" font-size="8.4" text-anchor="start" fill="#2b2b2b">反面</text>
<text x="570.20" y="41.70" font-size="8.3" text-anchor="start" fill="#2b2b2b" letter-spacing="0.1">Ø4</text>
<text x="581.20" y="41.70" font-size="6.2" text-anchor="start" fill="#2b2b2b" letter-spacing="0.45">H7</text>
<text x="590.60" y="41.70" font-size="8.0" text-anchor="start" fill="#2b2b2b">深</text>
<text x="598.90" y="41.70" font-size="8.3" text-anchor="start" fill="#2b2b2b">4</text>
<line x1="469.80" y1="163.70" x2="456.60" y2="198.40" stroke="#2b2b2b" stroke-width="0.8"/>
<line x1="456.60" y1="198.40" x2="488.40" y2="198.40" stroke="#2b2b2b" stroke-width="0.8"/>
<text x="459.00" y="197.20" font-size="6.6" text-anchor="start" fill="#2b2b2b" letter-spacing="0.15">16-M4</text>
<text x="477.60" y="197.20" font-size="6.2" text-anchor="start" fill="#2b2b2b">深</text>
<text x="484.20" y="197.20" font-size="6.6" text-anchor="start" fill="#2b2b2b">6</text>
<line x1="626.40" y1="87.40" x2="626.40" y2="96.80" stroke="#2b2b2b" stroke-width="1.0"/>
<line x1="634.40" y1="87.40" x2="634.40" y2="96.80" stroke="#2b2b2b" stroke-width="1.0"/>
<line x1="616.80" y1="88.60" x2="626.40" y2="88.60" stroke="#2b2b2b" stroke-width="1.0"/>
<polygon points="626.40,88.60 620.20,87.40 620.20,89.80" fill="#2b2b2b"/>
<line x1="634.40" y1="88.60" x2="659.00" y2="88.60" stroke="#2b2b2b" stroke-width="1.0"/>
<polygon points="634.40,88.60 640.60,87.40 640.60,89.80" fill="#2b2b2b"/>
<text x="642.80" y="86.70" font-size="8.5" text-anchor="start" fill="#2b2b2b" letter-spacing="0.1">Ø10</text>
<rect x="626.70" y="96.00" width="7.40" height="3.90" fill="#fff" stroke="#2b2b2b" stroke-width="0.8"/>
<rect x="628.60" y="99.90" width="3.60" height="4.40" fill="#fff" stroke="#2b2b2b" stroke-width="0.8"/>
<line x1="630.40" y1="94.30" x2="630.40" y2="105.80" stroke="#2b2b2b" stroke-width="0.5"/>
<line x1="628.60" y1="102.10" x2="632.20" y2="102.10" stroke="#2b2b2b" stroke-width="0.5"/>
<line x1="611.70" y1="108.20" x2="623.20" y2="108.20" stroke="#2b2b2b" stroke-width="1.0"/>
<line x1="611.70" y1="171.20" x2="623.20" y2="171.20" stroke="#2b2b2b" stroke-width="1.0"/>
<line x1="612.90" y1="108.20" x2="612.90" y2="171.20" stroke="#2b2b2b" stroke-width="1.0"/>
<polygon points="612.90,108.20 611.70,114.40 614.10,114.40" fill="#2b2b2b"/>
<polygon points="612.90,171.20 611.70,165.00 614.10,165.00" fill="#2b2b2b"/>
<text x="611.00" y="139.70" font-size="8.2" text-anchor="middle" fill="#2b2b2b" transform="rotate(-90 611.00 139.70)" letter-spacing="0">90</text>
<path d="M619.2,171.2 L619.2,188.2 Q619.2,191.2 622.2,191.2 L636.8000000000001,191.2 L636.8000000000001,175.2" fill="#fff" stroke="#2b2b2b" stroke-width="0.9"/>
<path d="M622.8000000000001,175.2 L622.8000000000001,186.2 Q622.8000000000001,188.79999999999998 625.4000000000001,188.79999999999998 L634.4000000000001,188.79999999999998" fill="none" stroke="#2b2b2b" stroke-width="0.7"/>
<rect x="629.40" y="175.20" width="7.40" height="13.60" fill="#eaebed" stroke="#2b2b2b" stroke-width="0.7"/>
<circle cx="624.40" cy="185.80" r="1.5" fill="#fff" stroke="#2b2b2b" stroke-width="0.6"/>
<rect x="619.20" y="104.30" width="29.60" height="70.90" fill="#fff" stroke="#2b2b2b" stroke-width="1.0"/>
<rect x="619.20" y="104.30" width="4.90" height="70.90" fill="#fff" stroke="#2b2b2b" stroke-width="0.9" rx="1.0"/>
<rect x="628.40" y="104.30" width="10.10" height="70.90" fill="#eaebed" stroke="#2b2b2b" stroke-width="0.8"/>
<rect x="624.10" y="106.50" width="4.30" height="65.30" fill="#1a1a1a" stroke="#2b2b2b" stroke-width="0.4" rx="1.2"/>
<rect x="625.90" y="116.99" width="1.90" height="13.83" fill="#fff" stroke="none" stroke-width="0.0"/>
<rect x="625.90" y="133.37" width="1.90" height="13.83" fill="#fff" stroke="none" stroke-width="0.0"/>
<rect x="625.90" y="149.82" width="1.90" height="13.75" fill="#fff" stroke="none" stroke-width="0.0"/>
<rect x="620.40" y="105.90" width="3.70" height="5.60" fill="#fff" stroke="#2b2b2b" stroke-width="0.7"/>
<rect x="620.40" y="167.90" width="3.70" height="5.30" fill="#fff" stroke="#2b2b2b" stroke-width="0.7"/>
<line x1="638.50" y1="104.30" x2="638.50" y2="175.20" stroke="#2b2b2b" stroke-width="1.3"/>
<rect x="640.10" y="105.90" width="7.50" height="12.00" fill="#fff" stroke="#2b2b2b" stroke-width="0.7"/>
<rect x="640.70" y="118.90" width="6.50" height="12.40" fill="#fff" stroke="#2b2b2b" stroke-width="0.7"/>
<circle cx="643.90" cy="122.50" r="1.9" fill="#222" stroke="#2b2b2b" stroke-width="0.5"/>
<circle cx="643.90" cy="127.30" r="1.9" fill="#222" stroke="#2b2b2b" stroke-width="0.5"/>
<rect x="643.50" y="120.90" width="2.90" height="8.20" fill="#222" stroke="#2b2b2b" stroke-width="0.4"/>
<circle cx="645.10" cy="122.70" r="0.9" fill="#fff" stroke="none" stroke-width="0.0"/>
<circle cx="645.10" cy="127.30" r="0.9" fill="#fff" stroke="none" stroke-width="0.0"/>
<path d="M638.5,138.6 L634.3,138.6 L634.3,152.0 L638.5,152.0" fill="#fff" stroke="#2b2b2b" stroke-width="0.8"/>
<path d="M634.3,138.6 L634.3,135.0 L638.5,135.0" fill="none" stroke="#2b2b2b" stroke-width="1.2"/>
<rect x="639.10" y="128.00" width="6.50" height="8.00" fill="#fff" stroke="#2b2b2b" stroke-width="0.6"/>
<line x1="642.45" y1="126.00" x2="642.45" y2="187.20" stroke="#2b2b2b" stroke-width="0.5"/>
<rect x="635.90" y="140.40" width="12.50" height="8.00" fill="#fff" stroke="#2b2b2b" stroke-width="0.8"/>
<line x1="635.90" y1="144.40" x2="648.40" y2="144.40" stroke="#2b2b2b" stroke-width="0.5"/>
<rect x="638.90" y="136.00" width="7.10" height="4.40" fill="#fff" stroke="#2b2b2b" stroke-width="0.7"/>
<rect x="638.50" y="148.40" width="7.90" height="9.60" fill="#fff" stroke="#2b2b2b" stroke-width="0.7"/>
<line x1="640.70" y1="149.00" x2="640.70" y2="158.00" stroke="#666" stroke-width="0.4"/>
<line x1="644.20" y1="149.00" x2="644.20" y2="158.00" stroke="#666" stroke-width="0.4"/>
<rect x="637.70" y="158.00" width="9.50" height="16.20" fill="#fff" stroke="#2b2b2b" stroke-width="0.7"/>
<line x1="637.70" y1="160.00" x2="647.20" y2="160.00" stroke="#2b2b2b" stroke-width="0.9"/>
<line x1="640.50" y1="161.40" x2="640.50" y2="173.20" stroke="#666" stroke-width="0.4"/>
<line x1="644.40" y1="161.40" x2="644.40" y2="173.20" stroke="#666" stroke-width="0.4"/>
<path d="M636.90,174.20 L648.00,174.20 L648.00,183.20 Q648.00,186.20 643.95,186.20 L640.95,186.20 Q636.90,186.20 636.90,183.20 Z" fill="url(#kn)" stroke="#2b2b2b" stroke-width="0.7"/>
<line x1="642.45" y1="186.20" x2="642.45" y2="187.80" stroke="#2b2b2b" stroke-width="0.8"/>
<line x1="462.20" y1="217.70" x2="462.20" y2="233.20" stroke="#2b2b2b" stroke-width="1.0"/>
<line x1="525.70" y1="217.70" x2="525.70" y2="233.20" stroke="#2b2b2b" stroke-width="1.0"/>
<line x1="462.20" y1="218.90" x2="525.70" y2="218.90" stroke="#2b2b2b" stroke-width="1.0"/>
<polygon points="462.20,218.90 468.40,217.70 468.40,220.10" fill="#2b2b2b"/>
<polygon points="525.70,218.90 519.50,217.70 519.50,220.10" fill="#2b2b2b"/>
<text x="494.55" y="218.40" font-size="8.2" text-anchor="middle" fill="#2b2b2b" letter-spacing="0">90</text>
<line x1="428.90" y1="229.60" x2="459.20" y2="229.60" stroke="#2b2b2b" stroke-width="1.0"/>
<line x1="428.90" y1="258.20" x2="444.20" y2="258.20" stroke="#2b2b2b" stroke-width="1.0"/>
<line x1="430.10" y1="229.60" x2="430.10" y2="258.20" stroke="#2b2b2b" stroke-width="1.0"/>
<polygon points="430.10,229.60 428.90,235.80 431.30,235.80" fill="#2b2b2b"/>
<polygon points="430.10,258.20 428.90,252.00 431.30,252.00" fill="#2b2b2b"/>
<text x="428.20" y="243.90" font-size="8.2" text-anchor="middle" fill="#2b2b2b" transform="rotate(-90 428.20 243.90)" letter-spacing="0">40</text>
<line x1="406.00" y1="219.50" x2="453.00" y2="219.50" stroke="#2b2b2b" stroke-width="0.9"/>
<line x1="453.00" y1="219.50" x2="460.80" y2="228.20" stroke="#2b2b2b" stroke-width="0.9"/>
<text x="409.10" y="216.40" font-size="8.3" text-anchor="start" fill="#2b2b2b" letter-spacing="0.35">4-Ø4.5</text>
<text x="436.60" y="216.80" font-size="8.2" text-anchor="start" fill="#2b2b2b">通孔</text>
<text x="410.50" y="228.00" font-size="8.2" text-anchor="start" fill="#2b2b2b">沉孔</text>
<text x="427.30" y="227.70" font-size="8.3" text-anchor="start" fill="#2b2b2b" letter-spacing="0.35">Ø8</text>
<text x="439.40" y="228.00" font-size="8.0" text-anchor="start" fill="#2b2b2b">深</text>
<text x="447.40" y="227.70" font-size="8.3" text-anchor="start" fill="#2b2b2b">5</text>
<path d="M459.2,243.39999999999998 L445.2,243.39999999999998 Q442.2,243.39999999999998 442.2,246.39999999999998 L442.2,258.2 L459.2,258.2 Z" fill="#fff" stroke="#2b2b2b" stroke-width="0.9"/>
<path d="M459.2,249.59999999999997 L447.2,249.59999999999997 Q444.8,249.59999999999997 444.8,251.99999999999997 L444.8,258.2" fill="#eaebed" stroke="#2b2b2b" stroke-width="0.7"/>
<circle cx="447.40" cy="246.80" r="1.5" fill="#fff" stroke="#2b2b2b" stroke-width="0.6"/>
<path d="M529.60,232.00 L538.20,232.00 Q541.20,232.00 541.20,235.60 L541.20,238.60 Q541.20,242.20 538.20,242.20 L529.60,242.20 Z" fill="url(#kn)" stroke="#2b2b2b" stroke-width="0.7"/>
<line x1="541.20" y1="237.10" x2="542.80" y2="237.10" stroke="#2b2b2b" stroke-width="0.8"/>
<line x1="540.20" y1="232.50" x2="550.40" y2="232.50" stroke="#2b2b2b" stroke-width="1.0"/>
<line x1="540.20" y1="241.30" x2="550.40" y2="241.30" stroke="#2b2b2b" stroke-width="1.0"/>
<line x1="549.20" y1="207.10" x2="549.20" y2="250.40" stroke="#2b2b2b" stroke-width="1.0"/>
<polygon points="549.20,232.50 548.00,226.30 550.40,226.30" fill="#2b2b2b"/>
<polygon points="549.20,241.30 548.00,247.50 550.40,247.50" fill="#2b2b2b"/>
<text x="547.70" y="223.80" font-size="8.2" text-anchor="start" fill="#2b2b2b" transform="rotate(-90 547.70 223.80)">Ø18</text>
<line x1="529.60" y1="253.60" x2="540.50" y2="253.60" stroke="#2b2b2b" stroke-width="0.5"/>
<rect x="529.60" y="252.40" width="3.80" height="2.40" fill="#fff" stroke="#2b2b2b" stroke-width="0.5"/>
<rect x="533.40" y="249.60" width="5.50" height="8.00" fill="#fff" stroke="#2b2b2b" stroke-width="0.8"/>
<line x1="535.60" y1="249.60" x2="535.60" y2="257.60" stroke="#2b2b2b" stroke-width="0.5"/>
<line x1="536.70" y1="249.60" x2="536.70" y2="257.60" stroke="#2b2b2b" stroke-width="0.5"/>
<rect x="459.20" y="229.60" width="70.40" height="18.30" fill="#eaebed" stroke="#2b2b2b" stroke-width="0.9"/>
<rect x="459.20" y="229.60" width="70.40" height="5.00" fill="#f4f4f5" stroke="#2b2b2b" stroke-width="0.8"/>
<line x1="464.60" y1="234.00" x2="494.60" y2="234.00" stroke="#1a1a1a" stroke-width="1.5"/>
<rect x="460.50" y="229.60" width="3.40" height="3.40" fill="#fff" stroke="#2b2b2b" stroke-width="0.6"/>
<rect x="524.00" y="229.60" width="3.40" height="3.40" fill="#fff" stroke="#2b2b2b" stroke-width="0.6"/>
<rect x="495.20" y="229.60" width="22.60" height="13.80" fill="#fff" stroke="#2b2b2b" stroke-width="0.9"/>
<circle cx="504.69" cy="232.70" r="1.9" fill="#1c1c1c" stroke="#2b2b2b" stroke-width="0.4"/>
<circle cx="516.00" cy="232.70" r="1.9" fill="#1c1c1c" stroke="#2b2b2b" stroke-width="0.4"/>
<rect x="496.20" y="239.00" width="20.60" height="3.00" fill="#eaebed" stroke="#2b2b2b" stroke-width="0.6"/>
<line x1="496.20" y1="240.50" x2="516.80" y2="240.50" stroke="#888" stroke-width="1.1"/>
<circle cx="506.27" cy="240.60" r="2.7" fill="#fff" stroke="#2b2b2b" stroke-width="0.9"/>
<line x1="502.47" y1="240.60" x2="510.07" y2="240.60" stroke="#2b2b2b" stroke-width="0.6"/>
<line x1="506.27" y1="236.60" x2="506.27" y2="245.40" stroke="#2b2b2b" stroke-width="0.6"/>
<rect x="459.20" y="247.90" width="70.40" height="10.30" fill="#fff" stroke="#2b2b2b" stroke-width="0.9"/>
<path d="M461.2,248.804 L527.6,248.804 L525.0,252.504 L463.8,252.504 Z" fill="#1a1a1a" stroke="#2b2b2b" stroke-width="0.4"/>
<rect x="473.98" y="249.80" width="9.86" height="2.10" fill="#fff" stroke="none" stroke-width="0"/>
<rect x="487.36" y="249.80" width="14.08" height="2.10" fill="#fff" stroke="none" stroke-width="0"/>
<rect x="504.96" y="249.80" width="9.86" height="2.10" fill="#fff" stroke="none" stroke-width="0"/>
<rect x="459.20" y="252.50" width="70.40" height="5.70" fill="#f4f4f5" stroke="#2b2b2b" stroke-width="0.9"/>
<path d="M640.8,239.0 L662.7,235.4 L662.7,257.4 L640.8,253.5 Z" fill="#fff" stroke="#1e1e1e" stroke-width="1.1" stroke-linejoin="miter"/>
<line x1="637.30" y1="246.10" x2="665.30" y2="246.10" stroke="#1e1e1e" stroke-width="0.9" stroke-dasharray="9.8 2.6 3.6 2.6 9.4"/>
<circle cx="697.60" cy="246.10" r="10.7" fill="none" stroke="#1e1e1e" stroke-width="1.1"/>
<circle cx="697.60" cy="246.10" r="6.0" fill="none" stroke="#1e1e1e" stroke-width="1.1"/>
<line x1="683.40" y1="246.10" x2="711.60" y2="246.10" stroke="#1e1e1e" stroke-width="0.9" stroke-dasharray="8.6 2.6 5.8 2.6 8.6"/>
<line x1="697.60" y1="232.20" x2="697.60" y2="260.20" stroke="#1e1e1e" stroke-width="0.9" stroke-dasharray="8.5 2.6 5.8 2.6 8.5"/>
<text x="628.20" y="269.30" font-size="10.35" text-anchor="start" fill="#444">视角标准：第一视角</text>
</svg>
<div class="phone" style="left:18.6px;top:308.1px;width:35.4px;height:35.2px"></div>
<svg class="abs" style="left:19px;top:308.5px" width="36" height="36" viewBox="19 308.5 36 36">
<defs><linearGradient id="pg" x1="0" y1="0" x2="0" y2="1"><stop offset="0" stop-color="#a9abad"/><stop offset="1" stop-color="#7f8183"/></linearGradient>
<linearGradient id="rf" x1="0" y1="0" x2="0" y2="1"><stop offset="0" stop-color="#cfd0d1"/><stop offset="1" stop-color="#ffffff"/></linearGradient></defs>
<path d="M25.2,321.6 C24.2,316.4 29,313.4 37,313.4 C45,313.4 50,316.4 49.2,321.6 L48.6,322.4 L43.4,322.4 L43,319.4 C42.8,318.2 40,317.8 37,317.8 C34,317.8 31.4,318.2 31.2,319.4 L30.8,322.4 L25.8,322.4 Z" fill="url(#pg)"/>
<path d="M30.6,318.4 L33.4,318.4 L33.8,316.6 L40.4,316.6 L40.8,318.4 L43.6,318.4 C45.6,322 47.2,327 47.4,333 C47.4,333.6 47,333.9 46.4,333.9 L27.6,333.9 C27,333.9 26.6,333.6 26.6,333 C26.8,327 28.6,322 30.6,318.4 Z" fill="url(#pg)"/>
<path d="M27.2,334.4 L46.8,334.4 L46.2,342.6 L27.8,342.6 Z" fill="url(#rf)"/>
<g fill="#fff">
<rect x="33.2" y="322.4" width="2" height="1.9"/><rect x="35.95" y="322.4" width="2" height="1.9"/><rect x="38.7" y="322.4" width="2" height="1.9"/>
<rect x="33.2" y="324.9" width="2" height="1.9"/><rect x="35.95" y="324.9" width="2" height="1.9"/><rect x="38.7" y="324.9" width="2" height="1.9"/>
<rect x="33.2" y="327.4" width="2" height="1.9"/><rect x="35.95" y="327.4" width="2" height="1.9"/><rect x="38.7" y="327.4" width="2" height="1.9"/>
<rect x="33.2" y="329.9" width="2" height="1.9"/><rect x="35.95" y="329.9" width="2" height="1.9"/><rect x="38.7" y="329.9" width="2" height="1.9"/>
</g>
<path d="M47.6,321.4 L50,322.6 L50.2,325.4 L48.8,329.6" fill="none" stroke="#8a8c8e" stroke-width="1.2"/>
</svg>
<svg class="abs" style="left:57px;top:321px" width="19" height="13" viewBox="57 321 19 13">
<path d="M59.1,325.6 L62.6,325.1 C63.6,324.1 65.8,323.8 67.4,324.4 L68.6,325.2 L73,325.1 C74,325.3 74,326.7 73,326.9 L68.3,327.1 C68.5,328.3 67.9,329.1 67.1,329.3 C67,330.3 66.3,330.9 65.5,330.9 C65,331.6 64,331.9 63,331.5 C62.3,331.2 61.8,330.5 61.4,330 L59.3,329.7 Z" fill="#fff" stroke="#3a3a3a" stroke-width="0.8" stroke-linejoin="round"/>
<path d="M68.3,327.1 L65.2,327.2 C64.1,327.4 63.7,328.5 64.2,329.1 M67.1,329.3 L64.8,329.4 M65.5,330.9 L63.6,330.7" fill="none" stroke="#3a3a3a" stroke-width="0.9"/>
<path d="M63.4,327.2 C62.8,328.6 62.8,330 63.4,331.2" fill="none" stroke="#3a3a3a" stroke-width="1.3"/>
<path d="M67.6,325.3 L73,325.3" fill="none" stroke="#2a2a2a" stroke-width="1.3"/>
</svg>
<div class="t " style="top:345.38px;font-size:9.2px;line-height:11.04px;left:19.40px;text-align:left;color:#333;">请按图示订货</div>
<div class="sq" style="left:78.10px;top:309.5px"></div>
<div class="t ttl" style="left:88.10px;top:306.9px;">DJF01-40</div>
<div class="bg" style="left:78.30px;top:319.30px;width:147.00px;height:23.20px;background:linear-gradient(#ededee,#e1e2e4)"></div>
<div class="ln" style="left:78.30px;top:318.50px;width:147.00px;height:1.6px;background:#453d3c"></div>
<div class="ln" style="left:78.30px;top:330.90px;width:94.70px;height:1.2px;background:#453d3c"></div>
<div class="ln" style="left:78.30px;top:341.85px;width:147.00px;height:1.3px;background:#453d3c"></div>
<div class="ln" style="left:78.30px;top:353.45px;width:147.00px;height:1.3px;background:#453d3c"></div>
<div class="ln" style="left:125.55px;top:331.50px;width:1.1px;height:22.60px;background:#453d3c"></div>
<div class="ln" style="left:172.45px;top:319.30px;width:1.1px;height:34.80px;background:#453d3c"></div>
<div class="t " style="top:321.22px;font-size:8.8px;line-height:10.56px;left:-19.75px;width:300px;text-align:center;color:#333;">型号</div>
<div class="t " style="top:332.82px;font-size:8.8px;line-height:10.56px;left:-47.00px;width:300px;text-align:center;color:#333;">代码</div>
<div class="t " style="top:332.82px;font-size:8.8px;line-height:10.56px;left:-0.85px;width:300px;text-align:center;color:#333;">规格</div>
<div class="t " style="top:326.58px;font-size:9.2px;line-height:11.04px;left:46.95px;width:300px;text-align:center;color:#222;">台面尺寸</div>
<div class="t bo" style="top:343.42px;font-size:9.3px;line-height:11.16px;left:-46.60px;width:300px;text-align:center;color:#f08a1c;letter-spacing:0.45px;font-weight:bold;">DJF01</div>
<div class="t bo" style="top:343.42px;font-size:9.3px;line-height:11.16px;left:-0.75px;width:300px;text-align:center;color:#f08a1c;letter-spacing:0.3px;font-weight:bold;">40</div>
<div class="t bo" style="top:343.42px;font-size:9.3px;line-height:11.16px;left:51.40px;width:300px;text-align:center;color:#f08a1c;letter-spacing:0.9px;font-weight:bold;">40×40</div>
<div class="sq" style="left:241.30px;top:309.5px"></div>
<div class="t ttl" style="left:251.30px;top:306.9px;">DJF01-40-QR</div>
<div class="bg" style="left:241.50px;top:319.30px;width:158.30px;height:23.20px;background:linear-gradient(#ededee,#e1e2e4)"></div>
<div class="ln" style="left:241.50px;top:318.50px;width:158.30px;height:1.6px;background:#453d3c"></div>
<div class="ln" style="left:241.50px;top:330.90px;width:93.70px;height:1.2px;background:#453d3c"></div>
<div class="ln" style="left:241.50px;top:341.85px;width:158.30px;height:1.3px;background:#453d3c"></div>
<div class="ln" style="left:241.50px;top:353.45px;width:158.30px;height:1.3px;background:#453d3c"></div>
<div class="ln" style="left:287.95px;top:331.50px;width:1.1px;height:22.60px;background:#453d3c"></div>
<div class="ln" style="left:334.65px;top:319.30px;width:1.1px;height:34.80px;background:#453d3c"></div>
<div class="t " style="top:321.22px;font-size:8.8px;line-height:10.56px;left:142.95px;width:300px;text-align:center;color:#333;">型号</div>
<div class="t " style="top:332.82px;font-size:8.8px;line-height:10.56px;left:115.80px;width:300px;text-align:center;color:#333;">代码</div>
<div class="t " style="top:332.82px;font-size:8.8px;line-height:10.56px;left:161.45px;width:300px;text-align:center;color:#333;">规格</div>
<div class="t " style="top:326.58px;font-size:9.2px;line-height:11.04px;left:218.30px;width:300px;text-align:center;color:#222;">可选加工</div>
<div class="t bo" style="top:343.42px;font-size:9.3px;line-height:11.16px;left:116.20px;width:300px;text-align:center;color:#f08a1c;letter-spacing:0.45px;font-weight:bold;">DJF01</div>
<div class="t bo" style="top:343.42px;font-size:9.3px;line-height:11.16px;left:161.55px;width:300px;text-align:center;color:#f08a1c;letter-spacing:0.3px;font-weight:bold;">40</div>
<div class="t bo" style="top:343.42px;font-size:9.3px;line-height:11.16px;left:349.00px;text-align:left;color:#f08a1c;letter-spacing:0.2px;font-weight:bold;">QR</div><div class="t " style="top:343.42px;font-size:9.3px;line-height:11.16px;left:370.20px;text-align:left;color:#1a1a1a;letter-spacing:0.2px;font-weight:bold;">QC</div>
<div class="bg" style="left:19.90px;top:369.00px;width:707.80px;height:28.30px;background:linear-gradient(#ededee,#e1e2e4)"></div>
<div class="bg" style="left:97.30px;top:410.90px;width:630.40px;height:13.60px;background:#ece8d6"></div>
<div class="bg" style="left:97.30px;top:438.30px;width:630.40px;height:13.80px;background:#ece8d6"></div>
<div class="ln" style="left:19.90px;top:368.30px;width:707.80px;height:1.4px;background:#453d3c"></div>
<div class="ln" style="left:19.90px;top:382.80px;width:128.90px;height:1.2px;background:#453d3c"></div>
<div class="ln" style="left:19.90px;top:396.65px;width:707.80px;height:1.3px;background:#453d3c"></div>
<div class="ln" style="left:19.90px;top:464.95px;width:707.80px;height:1.3px;background:#453d3c"></div>
<div class="ln" style="left:96.75px;top:383.40px;width:1.1px;height:82.20px;background:#453d3c"></div>
<div class="ln" style="left:148.25px;top:369.00px;width:1.1px;height:96.60px;background:#453d3c"></div>
<div class="ln" style="left:220.35px;top:369.00px;width:1.1px;height:96.60px;background:#453d3c"></div>
<div class="ln" style="left:287.65px;top:369.00px;width:1.1px;height:96.60px;background:#453d3c"></div>
<div class="ln" style="left:359.85px;top:369.00px;width:1.1px;height:96.60px;background:#453d3c"></div>
<div class="ln" style="left:448.15px;top:369.00px;width:1.1px;height:96.60px;background:#453d3c"></div>
<div class="ln" style="left:507.65px;top:369.00px;width:1.1px;height:96.60px;background:#453d3c"></div>
<div class="ln" style="left:614.35px;top:369.00px;width:1.1px;height:96.60px;background:#453d3c"></div>
<div class="ln" style="left:97.30px;top:410.35px;width:123.60px;height:1.1px;background:#453d3c"></div>
<div class="ln" style="left:508.20px;top:410.35px;width:219.50px;height:1.1px;background:#453d3c"></div>
<div class="ln" style="left:97.30px;top:423.95px;width:123.60px;height:1.1px;background:#453d3c"></div>
<div class="ln" style="left:508.20px;top:423.95px;width:219.50px;height:1.1px;background:#453d3c"></div>
<div class="ln" style="left:97.30px;top:437.75px;width:123.60px;height:1.1px;background:#453d3c"></div>
<div class="ln" style="left:508.20px;top:437.75px;width:219.50px;height:1.1px;background:#453d3c"></div>
<div class="ln" style="left:97.30px;top:451.55px;width:123.60px;height:1.1px;background:#453d3c"></div>
<div class="ln" style="left:508.20px;top:451.55px;width:219.50px;height:1.1px;background:#453d3c"></div>
<div class="ln" style="left:220.90px;top:410.35px;width:67.30px;height:1.1px;background:#453d3c"></div>
<div class="ln" style="left:220.90px;top:437.75px;width:67.30px;height:1.1px;background:#453d3c"></div>
<div class="ln" style="left:360.40px;top:437.75px;width:88.30px;height:1.1px;background:#453d3c"></div>
<div class="t " style="top:370.60px;font-size:10.0px;line-height:12.00px;left:-65.05px;width:300px;text-align:center;color:#333;letter-spacing:0.3px;">型号</div>
<div class="t " style="top:384.70px;font-size:10.0px;line-height:12.00px;left:-90.80px;width:300px;text-align:center;color:#333;letter-spacing:0.3px;">代码</div>
<div class="t " style="top:384.70px;font-size:10.0px;line-height:12.00px;left:-26.55px;width:300px;text-align:center;color:#333;letter-spacing:0.3px;">规格</div>
<div class="t " style="top:371.30px;font-size:10.0px;line-height:12.00px;left:35.10px;width:300px;text-align:center;color:#333;letter-spacing:0.2px;">台面尺寸</div>
<div class="t " style="top:383.88px;font-size:10.2px;line-height:12.24px;left:35.40px;width:300px;text-align:center;color:#333;letter-spacing:0.45px;">(mm)</div>
<div class="t " style="top:371.30px;font-size:10.0px;line-height:12.00px;left:106.30px;width:300px;text-align:center;color:#333;letter-spacing:0.3px;">行程</div>
<div class="t " style="top:383.88px;font-size:10.2px;line-height:12.24px;left:106.50px;width:300px;text-align:center;color:#333;letter-spacing:0.45px;">(mm)</div>
<div class="t " style="top:372.60px;font-size:10.0px;line-height:12.00px;left:174.80px;width:300px;text-align:center;color:#333;letter-spacing:0.35px;">微分头最小</div>
<div class="t " style="top:382.20px;font-size:10.0px;line-height:12.00px;left:175.40px;width:300px;text-align:center;color:#333;letter-spacing:0.3px;">读取量(μm)</div>
<div class="t " style="top:371.80px;font-size:10.0px;line-height:12.00px;left:255.30px;width:300px;text-align:center;color:#333;letter-spacing:0.9px;">移动精度</div>
<div class="t " style="top:382.20px;font-size:10.0px;line-height:12.00px;left:255.50px;width:300px;text-align:center;color:#333;letter-spacing:0.75px;">(直线度)(μm)</div>
<div class="t " style="top:377.60px;font-size:10.0px;line-height:12.00px;left:328.60px;width:300px;text-align:center;color:#333;letter-spacing:0.3px;">传动位置</div>
<div class="t " style="top:377.60px;font-size:10.0px;line-height:12.00px;left:409.90px;width:300px;text-align:center;color:#333;letter-spacing:0.35px;">水平耐负载 (N)</div>
<div class="t " style="top:377.60px;font-size:10.0px;line-height:12.00px;left:524.80px;width:300px;text-align:center;color:#333;letter-spacing:0.4px;">主体重量(kg)</div>
<div class="t " style="top:426.06px;font-size:10.4px;line-height:12.48px;left:-92.60px;width:300px;text-align:center;color:#f08a1c;font-weight:bold;">DJF01</div>
<div class="t " style="top:398.76px;font-size:10.4px;line-height:12.48px;left:-168.00px;width:300px;text-align:right;color:#f08a1c;letter-spacing:0px;font-weight:bold;">25</div>
<div class="t " style="top:398.76px;font-size:10.4px;line-height:12.48px;left:35.20px;width:300px;text-align:center;color:#2a2a2a;letter-spacing:0.1px;">25×25</div>
<div class="t " style="top:398.76px;font-size:10.4px;line-height:12.48px;left:269.40px;width:300px;text-align:right;color:#2a2a2a;letter-spacing:0.1px;">39.2</div>
<div class="t " style="top:398.76px;font-size:10.4px;line-height:12.48px;left:650.40px;text-align:left;color:#2a2a2a;letter-spacing:0.1px;">0.14</div>
<div class="t " style="top:412.36px;font-size:10.4px;line-height:12.48px;left:-168.00px;width:300px;text-align:right;color:#f08a1c;letter-spacing:0px;font-weight:bold;">40</div>
<div class="t " style="top:412.36px;font-size:10.4px;line-height:12.48px;left:35.20px;width:300px;text-align:center;color:#2a2a2a;letter-spacing:0.1px;">40×40</div>
<div class="t " style="top:412.36px;font-size:10.4px;line-height:12.48px;left:269.40px;width:300px;text-align:right;color:#2a2a2a;letter-spacing:0.1px;">95.2</div>
<div class="t " style="top:412.36px;font-size:10.4px;line-height:12.48px;left:650.40px;text-align:left;color:#2a2a2a;letter-spacing:0.1px;">0.46</div>
<div class="t " style="top:426.06px;font-size:10.4px;line-height:12.48px;left:-168.00px;width:300px;text-align:right;color:#f08a1c;letter-spacing:0px;font-weight:bold;">60</div>
<div class="t " style="top:426.06px;font-size:10.4px;line-height:12.48px;left:35.20px;width:300px;text-align:center;color:#2a2a2a;letter-spacing:0.1px;">60×60</div>
<div class="t " style="top:426.06px;font-size:10.4px;line-height:12.48px;left:269.40px;width:300px;text-align:right;color:#2a2a2a;letter-spacing:0.1px;">192.1</div>
<div class="t " style="top:426.06px;font-size:10.4px;line-height:12.48px;left:650.40px;text-align:left;color:#2a2a2a;letter-spacing:0.1px;">0.8</div>
<div class="t " style="top:439.86px;font-size:10.4px;line-height:12.48px;left:-168.00px;width:300px;text-align:right;color:#f08a1c;letter-spacing:0px;font-weight:bold;">80</div>
<div class="t " style="top:439.86px;font-size:10.4px;line-height:12.48px;left:35.20px;width:300px;text-align:center;color:#2a2a2a;letter-spacing:0.1px;">80×80</div>
<div class="t " style="top:439.86px;font-size:10.4px;line-height:12.48px;left:269.40px;width:300px;text-align:right;color:#2a2a2a;letter-spacing:0.1px;">255.8</div>
<div class="t " style="top:439.86px;font-size:10.4px;line-height:12.48px;left:650.40px;text-align:left;color:#2a2a2a;letter-spacing:0.1px;">1.8</div>
<div class="t " style="top:453.51px;font-size:10.4px;line-height:12.48px;left:-168.00px;width:300px;text-align:right;color:#f08a1c;letter-spacing:0px;font-weight:bold;">100</div>
<div class="t " style="top:453.51px;font-size:10.4px;line-height:12.48px;left:35.20px;width:300px;text-align:center;color:#2a2a2a;letter-spacing:0.1px;">100×100</div>
<div class="t " style="top:453.51px;font-size:10.4px;line-height:12.48px;left:269.40px;width:300px;text-align:right;color:#2a2a2a;letter-spacing:0.1px;">329.6</div>
<div class="t " style="top:453.51px;font-size:10.4px;line-height:12.48px;left:650.40px;text-align:left;color:#2a2a2a;letter-spacing:0.1px;">2.66</div>
<div class="t " style="top:398.76px;font-size:10.4px;line-height:12.48px;left:106.20px;width:300px;text-align:center;color:#2a2a2a;letter-spacing:0.1px;">±3.2</div>
<div class="t " style="top:419.26px;font-size:10.4px;line-height:12.48px;left:106.20px;width:300px;text-align:center;color:#2a2a2a;letter-spacing:0.1px;">±6.5</div>
<div class="t " style="top:446.61px;font-size:10.4px;line-height:12.48px;left:106.20px;width:300px;text-align:center;color:#2a2a2a;letter-spacing:0.1px;">±12.5</div>
<div class="t " style="top:426.66px;font-size:10.4px;line-height:12.48px;left:175.20px;width:300px;text-align:center;color:#2a2a2a;letter-spacing:0.1px;">10</div>
<div class="t " style="top:412.46px;font-size:10.4px;line-height:12.48px;left:255.00px;width:300px;text-align:center;color:#2a2a2a;">3</div>
<div class="t " style="top:446.61px;font-size:10.4px;line-height:12.48px;left:255.00px;width:300px;text-align:center;color:#2a2a2a;">5</div>
<div class="t " style="top:426.20px;font-size:10.0px;line-height:12.00px;left:328.40px;width:300px;text-align:center;color:#2a2a2a;letter-spacing:0.3px;">侧边</div>
<div class="warn" style="left:20.5px;top:469.1px"><span>!</span></div>
<div class="t " style="top:467.72px;font-size:10.3px;line-height:12.36px;left:33.60px;text-align:left;color:#262626;">可选加工见下页。</div>
</div>
</body>
</html>
